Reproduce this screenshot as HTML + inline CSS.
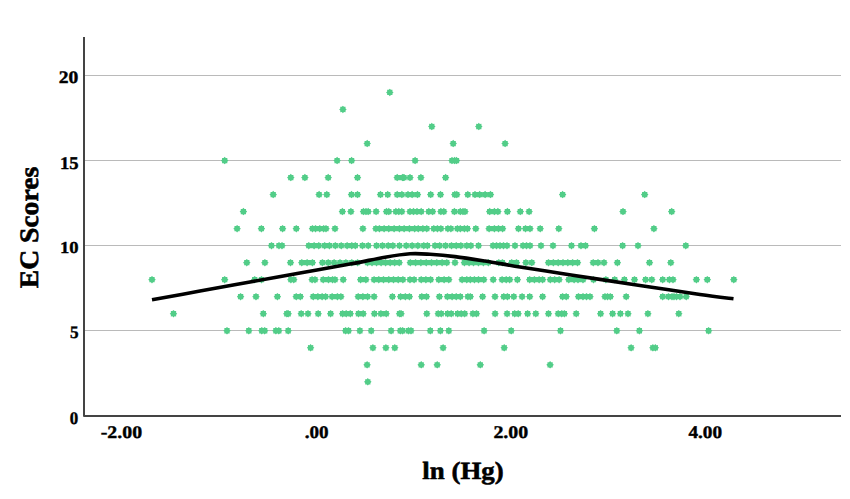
<!DOCTYPE html>
<html><head><meta charset="utf-8"><title>EC Scores vs ln (Hg)</title><style>
html,body{margin:0;padding:0;background:#fff;overflow:hidden;}
svg{display:block;}
text{font-family:"Liberation Serif",serif;font-weight:bold;fill:#000;font-size:20px;stroke:#000;stroke-width:0.45px;text-rendering:geometricPrecision;}
</style></head><body>
<svg width="850" height="499" viewBox="0 0 850 499">
<g stroke="#bababa" stroke-width="1">
<line x1="85" y1="75.5" x2="841" y2="75.5"/>
<line x1="85" y1="160.5" x2="841" y2="160.5"/>
<line x1="85" y1="245.5" x2="841" y2="245.5"/>
<line x1="85" y1="330.5" x2="841" y2="330.5"/>
</g>
<path d="M84 37 V416 H841" fill="none" stroke="#444" stroke-width="2" stroke-linejoin="round"/>
<text transform="matrix(0.9783 0 0 0.8806 58.82 83.35)">20</text><text transform="matrix(0.9318 0 0 0.8955 60.01 168.92)">15</text><text transform="matrix(0.9318 0 0 0.8382 60.01 252.76)">10</text><text transform="matrix(0.8571 0 0 0.8864 70.01 338.32)">5</text><text transform="matrix(0.8452 0 0 0.8881 69.82 423.74)">0</text><text transform="matrix(0.9925 0 0 0.8881 100.71 437.74)">-2.00</text><text transform="matrix(0.9573 0 0 0.8955 304.63 437.84)">.00</text><text transform="matrix(0.9970 0 0 0.8955 493.40 437.84)">2.00</text><text transform="matrix(0.9618 0 0 0.8881 688.41 437.74)">4.00</text><text transform="matrix(1.3429 0 0 1.2389 422.36 478.80)">ln (Hg)</text>
<text transform="translate(38.37 288.25) rotate(-90) scale(1.3805 1.3284)">EC Scores</text>
<g><path fill="#52cd88" d="M389.8 88.72l1.09 1.12 1.56 -0.02 -0.02 1.56 1.12 1.09 -1.12 1.09 0.02 1.56 -1.56 -0.02 -1.09 1.12 -1.09 -1.12 -1.56 0.02 0.02 -1.56 -1.12 -1.09 1.12 -1.09 -0.02 -1.56 1.56 0.02zM342.9 105.74l1.09 1.12 1.56 -0.02 -0.02 1.56 1.12 1.09 -1.12 1.09 0.02 1.56 -1.56 -0.02 -1.09 1.12 -1.09 -1.12 -1.56 0.02 0.02 -1.56 -1.12 -1.09 1.12 -1.09 -0.02 -1.56 1.56 0.02zM431.8 122.76l1.09 1.12 1.56 -0.02 -0.02 1.56 1.12 1.09 -1.12 1.09 0.02 1.56 -1.56 -0.02 -1.09 1.12 -1.09 -1.12 -1.56 0.02 0.02 -1.56 -1.12 -1.09 1.12 -1.09 -0.02 -1.56 1.56 0.02zM478.8 122.76l1.09 1.12 1.56 -0.02 -0.02 1.56 1.12 1.09 -1.12 1.09 0.02 1.56 -1.56 -0.02 -1.09 1.12 -1.09 -1.12 -1.56 0.02 0.02 -1.56 -1.12 -1.09 1.12 -1.09 -0.02 -1.56 1.56 0.02zM367.2 139.78l1.09 1.12 1.56 -0.02 -0.02 1.56 1.12 1.09 -1.12 1.09 0.02 1.56 -1.56 -0.02 -1.09 1.12 -1.09 -1.12 -1.56 0.02 0.02 -1.56 -1.12 -1.09 1.12 -1.09 -0.02 -1.56 1.56 0.02zM453.2 139.78l1.09 1.12 1.56 -0.02 -0.02 1.56 1.12 1.09 -1.12 1.09 0.02 1.56 -1.56 -0.02 -1.09 1.12 -1.09 -1.12 -1.56 0.02 0.02 -1.56 -1.12 -1.09 1.12 -1.09 -0.02 -1.56 1.56 0.02zM505.1 139.78l1.09 1.12 1.56 -0.02 -0.02 1.56 1.12 1.09 -1.12 1.09 0.02 1.56 -1.56 -0.02 -1.09 1.12 -1.09 -1.12 -1.56 0.02 0.02 -1.56 -1.12 -1.09 1.12 -1.09 -0.02 -1.56 1.56 0.02zM224.7 156.8l1.09 1.12 1.56 -0.02 -0.02 1.56 1.12 1.09 -1.12 1.09 0.02 1.56 -1.56 -0.02 -1.09 1.12 -1.09 -1.12 -1.56 0.02 0.02 -1.56 -1.12 -1.09 1.12 -1.09 -0.02 -1.56 1.56 0.02zM337.1 156.8l1.09 1.12 1.56 -0.02 -0.02 1.56 1.12 1.09 -1.12 1.09 0.02 1.56 -1.56 -0.02 -1.09 1.12 -1.09 -1.12 -1.56 0.02 0.02 -1.56 -1.12 -1.09 1.12 -1.09 -0.02 -1.56 1.56 0.02zM351.6 156.8l1.09 1.12 1.56 -0.02 -0.02 1.56 1.12 1.09 -1.12 1.09 0.02 1.56 -1.56 -0.02 -1.09 1.12 -1.09 -1.12 -1.56 0.02 0.02 -1.56 -1.12 -1.09 1.12 -1.09 -0.02 -1.56 1.56 0.02zM415.1 156.8l1.09 1.12 1.56 -0.02 -0.02 1.56 1.12 1.09 -1.12 1.09 0.02 1.56 -1.56 -0.02 -1.09 1.12 -1.09 -1.12 -1.56 0.02 0.02 -1.56 -1.12 -1.09 1.12 -1.09 -0.02 -1.56 1.56 0.02zM452 156.8l1.09 1.12 1.56 -0.02 -0.02 1.56 1.12 1.09 -1.12 1.09 0.02 1.56 -1.56 -0.02 -1.09 1.12 -1.09 -1.12 -1.56 0.02 0.02 -1.56 -1.12 -1.09 1.12 -1.09 -0.02 -1.56 1.56 0.02zM454.5 156.8l1.09 1.12 1.56 -0.02 -0.02 1.56 1.12 1.09 -1.12 1.09 0.02 1.56 -1.56 -0.02 -1.09 1.12 -1.09 -1.12 -1.56 0.02 0.02 -1.56 -1.12 -1.09 1.12 -1.09 -0.02 -1.56 1.56 0.02zM456.5 156.8l1.09 1.12 1.56 -0.02 -0.02 1.56 1.12 1.09 -1.12 1.09 0.02 1.56 -1.56 -0.02 -1.09 1.12 -1.09 -1.12 -1.56 0.02 0.02 -1.56 -1.12 -1.09 1.12 -1.09 -0.02 -1.56 1.56 0.02zM290.8 173.82l1.09 1.12 1.56 -0.02 -0.02 1.56 1.12 1.09 -1.12 1.09 0.02 1.56 -1.56 -0.02 -1.09 1.12 -1.09 -1.12 -1.56 0.02 0.02 -1.56 -1.12 -1.09 1.12 -1.09 -0.02 -1.56 1.56 0.02zM304.9 173.82l1.09 1.12 1.56 -0.02 -0.02 1.56 1.12 1.09 -1.12 1.09 0.02 1.56 -1.56 -0.02 -1.09 1.12 -1.09 -1.12 -1.56 0.02 0.02 -1.56 -1.12 -1.09 1.12 -1.09 -0.02 -1.56 1.56 0.02zM328.2 173.82l1.09 1.12 1.56 -0.02 -0.02 1.56 1.12 1.09 -1.12 1.09 0.02 1.56 -1.56 -0.02 -1.09 1.12 -1.09 -1.12 -1.56 0.02 0.02 -1.56 -1.12 -1.09 1.12 -1.09 -0.02 -1.56 1.56 0.02zM357.5 173.82l1.09 1.12 1.56 -0.02 -0.02 1.56 1.12 1.09 -1.12 1.09 0.02 1.56 -1.56 -0.02 -1.09 1.12 -1.09 -1.12 -1.56 0.02 0.02 -1.56 -1.12 -1.09 1.12 -1.09 -0.02 -1.56 1.56 0.02zM397.2 173.82l1.09 1.12 1.56 -0.02 -0.02 1.56 1.12 1.09 -1.12 1.09 0.02 1.56 -1.56 -0.02 -1.09 1.12 -1.09 -1.12 -1.56 0.02 0.02 -1.56 -1.12 -1.09 1.12 -1.09 -0.02 -1.56 1.56 0.02zM402.5 173.82l1.09 1.12 1.56 -0.02 -0.02 1.56 1.12 1.09 -1.12 1.09 0.02 1.56 -1.56 -0.02 -1.09 1.12 -1.09 -1.12 -1.56 0.02 0.02 -1.56 -1.12 -1.09 1.12 -1.09 -0.02 -1.56 1.56 0.02zM404 173.82l1.09 1.12 1.56 -0.02 -0.02 1.56 1.12 1.09 -1.12 1.09 0.02 1.56 -1.56 -0.02 -1.09 1.12 -1.09 -1.12 -1.56 0.02 0.02 -1.56 -1.12 -1.09 1.12 -1.09 -0.02 -1.56 1.56 0.02zM410 173.82l1.09 1.12 1.56 -0.02 -0.02 1.56 1.12 1.09 -1.12 1.09 0.02 1.56 -1.56 -0.02 -1.09 1.12 -1.09 -1.12 -1.56 0.02 0.02 -1.56 -1.12 -1.09 1.12 -1.09 -0.02 -1.56 1.56 0.02zM420.9 173.82l1.09 1.12 1.56 -0.02 -0.02 1.56 1.12 1.09 -1.12 1.09 0.02 1.56 -1.56 -0.02 -1.09 1.12 -1.09 -1.12 -1.56 0.02 0.02 -1.56 -1.12 -1.09 1.12 -1.09 -0.02 -1.56 1.56 0.02zM445.6 173.82l1.09 1.12 1.56 -0.02 -0.02 1.56 1.12 1.09 -1.12 1.09 0.02 1.56 -1.56 -0.02 -1.09 1.12 -1.09 -1.12 -1.56 0.02 0.02 -1.56 -1.12 -1.09 1.12 -1.09 -0.02 -1.56 1.56 0.02zM273.2 190.84l1.09 1.12 1.56 -0.02 -0.02 1.56 1.12 1.09 -1.12 1.09 0.02 1.56 -1.56 -0.02 -1.09 1.12 -1.09 -1.12 -1.56 0.02 0.02 -1.56 -1.12 -1.09 1.12 -1.09 -0.02 -1.56 1.56 0.02zM319.1 190.84l1.09 1.12 1.56 -0.02 -0.02 1.56 1.12 1.09 -1.12 1.09 0.02 1.56 -1.56 -0.02 -1.09 1.12 -1.09 -1.12 -1.56 0.02 0.02 -1.56 -1.12 -1.09 1.12 -1.09 -0.02 -1.56 1.56 0.02zM326.8 190.84l1.09 1.12 1.56 -0.02 -0.02 1.56 1.12 1.09 -1.12 1.09 0.02 1.56 -1.56 -0.02 -1.09 1.12 -1.09 -1.12 -1.56 0.02 0.02 -1.56 -1.12 -1.09 1.12 -1.09 -0.02 -1.56 1.56 0.02zM351.5 190.84l1.09 1.12 1.56 -0.02 -0.02 1.56 1.12 1.09 -1.12 1.09 0.02 1.56 -1.56 -0.02 -1.09 1.12 -1.09 -1.12 -1.56 0.02 0.02 -1.56 -1.12 -1.09 1.12 -1.09 -0.02 -1.56 1.56 0.02zM357.5 190.84l1.09 1.12 1.56 -0.02 -0.02 1.56 1.12 1.09 -1.12 1.09 0.02 1.56 -1.56 -0.02 -1.09 1.12 -1.09 -1.12 -1.56 0.02 0.02 -1.56 -1.12 -1.09 1.12 -1.09 -0.02 -1.56 1.56 0.02zM380.5 190.84l1.09 1.12 1.56 -0.02 -0.02 1.56 1.12 1.09 -1.12 1.09 0.02 1.56 -1.56 -0.02 -1.09 1.12 -1.09 -1.12 -1.56 0.02 0.02 -1.56 -1.12 -1.09 1.12 -1.09 -0.02 -1.56 1.56 0.02zM387.7 190.84l1.09 1.12 1.56 -0.02 -0.02 1.56 1.12 1.09 -1.12 1.09 0.02 1.56 -1.56 -0.02 -1.09 1.12 -1.09 -1.12 -1.56 0.02 0.02 -1.56 -1.12 -1.09 1.12 -1.09 -0.02 -1.56 1.56 0.02zM397.2 190.84l1.09 1.12 1.56 -0.02 -0.02 1.56 1.12 1.09 -1.12 1.09 0.02 1.56 -1.56 -0.02 -1.09 1.12 -1.09 -1.12 -1.56 0.02 0.02 -1.56 -1.12 -1.09 1.12 -1.09 -0.02 -1.56 1.56 0.02zM401.9 190.84l1.09 1.12 1.56 -0.02 -0.02 1.56 1.12 1.09 -1.12 1.09 0.02 1.56 -1.56 -0.02 -1.09 1.12 -1.09 -1.12 -1.56 0.02 0.02 -1.56 -1.12 -1.09 1.12 -1.09 -0.02 -1.56 1.56 0.02zM408 190.84l1.09 1.12 1.56 -0.02 -0.02 1.56 1.12 1.09 -1.12 1.09 0.02 1.56 -1.56 -0.02 -1.09 1.12 -1.09 -1.12 -1.56 0.02 0.02 -1.56 -1.12 -1.09 1.12 -1.09 -0.02 -1.56 1.56 0.02zM412.1 190.84l1.09 1.12 1.56 -0.02 -0.02 1.56 1.12 1.09 -1.12 1.09 0.02 1.56 -1.56 -0.02 -1.09 1.12 -1.09 -1.12 -1.56 0.02 0.02 -1.56 -1.12 -1.09 1.12 -1.09 -0.02 -1.56 1.56 0.02zM417.5 190.84l1.09 1.12 1.56 -0.02 -0.02 1.56 1.12 1.09 -1.12 1.09 0.02 1.56 -1.56 -0.02 -1.09 1.12 -1.09 -1.12 -1.56 0.02 0.02 -1.56 -1.12 -1.09 1.12 -1.09 -0.02 -1.56 1.56 0.02zM430.7 190.84l1.09 1.12 1.56 -0.02 -0.02 1.56 1.12 1.09 -1.12 1.09 0.02 1.56 -1.56 -0.02 -1.09 1.12 -1.09 -1.12 -1.56 0.02 0.02 -1.56 -1.12 -1.09 1.12 -1.09 -0.02 -1.56 1.56 0.02zM440.5 190.84l1.09 1.12 1.56 -0.02 -0.02 1.56 1.12 1.09 -1.12 1.09 0.02 1.56 -1.56 -0.02 -1.09 1.12 -1.09 -1.12 -1.56 0.02 0.02 -1.56 -1.12 -1.09 1.12 -1.09 -0.02 -1.56 1.56 0.02zM454.8 190.84l1.09 1.12 1.56 -0.02 -0.02 1.56 1.12 1.09 -1.12 1.09 0.02 1.56 -1.56 -0.02 -1.09 1.12 -1.09 -1.12 -1.56 0.02 0.02 -1.56 -1.12 -1.09 1.12 -1.09 -0.02 -1.56 1.56 0.02zM456.8 190.84l1.09 1.12 1.56 -0.02 -0.02 1.56 1.12 1.09 -1.12 1.09 0.02 1.56 -1.56 -0.02 -1.09 1.12 -1.09 -1.12 -1.56 0.02 0.02 -1.56 -1.12 -1.09 1.12 -1.09 -0.02 -1.56 1.56 0.02zM467.8 190.84l1.09 1.12 1.56 -0.02 -0.02 1.56 1.12 1.09 -1.12 1.09 0.02 1.56 -1.56 -0.02 -1.09 1.12 -1.09 -1.12 -1.56 0.02 0.02 -1.56 -1.12 -1.09 1.12 -1.09 -0.02 -1.56 1.56 0.02zM475 190.84l1.09 1.12 1.56 -0.02 -0.02 1.56 1.12 1.09 -1.12 1.09 0.02 1.56 -1.56 -0.02 -1.09 1.12 -1.09 -1.12 -1.56 0.02 0.02 -1.56 -1.12 -1.09 1.12 -1.09 -0.02 -1.56 1.56 0.02zM479.7 190.84l1.09 1.12 1.56 -0.02 -0.02 1.56 1.12 1.09 -1.12 1.09 0.02 1.56 -1.56 -0.02 -1.09 1.12 -1.09 -1.12 -1.56 0.02 0.02 -1.56 -1.12 -1.09 1.12 -1.09 -0.02 -1.56 1.56 0.02zM485.1 190.84l1.09 1.12 1.56 -0.02 -0.02 1.56 1.12 1.09 -1.12 1.09 0.02 1.56 -1.56 -0.02 -1.09 1.12 -1.09 -1.12 -1.56 0.02 0.02 -1.56 -1.12 -1.09 1.12 -1.09 -0.02 -1.56 1.56 0.02zM490.5 190.84l1.09 1.12 1.56 -0.02 -0.02 1.56 1.12 1.09 -1.12 1.09 0.02 1.56 -1.56 -0.02 -1.09 1.12 -1.09 -1.12 -1.56 0.02 0.02 -1.56 -1.12 -1.09 1.12 -1.09 -0.02 -1.56 1.56 0.02zM562.6 190.84l1.09 1.12 1.56 -0.02 -0.02 1.56 1.12 1.09 -1.12 1.09 0.02 1.56 -1.56 -0.02 -1.09 1.12 -1.09 -1.12 -1.56 0.02 0.02 -1.56 -1.12 -1.09 1.12 -1.09 -0.02 -1.56 1.56 0.02zM644.7 190.84l1.09 1.12 1.56 -0.02 -0.02 1.56 1.12 1.09 -1.12 1.09 0.02 1.56 -1.56 -0.02 -1.09 1.12 -1.09 -1.12 -1.56 0.02 0.02 -1.56 -1.12 -1.09 1.12 -1.09 -0.02 -1.56 1.56 0.02zM243.4 207.86l1.09 1.12 1.56 -0.02 -0.02 1.56 1.12 1.09 -1.12 1.09 0.02 1.56 -1.56 -0.02 -1.09 1.12 -1.09 -1.12 -1.56 0.02 0.02 -1.56 -1.12 -1.09 1.12 -1.09 -0.02 -1.56 1.56 0.02zM342.4 207.86l1.09 1.12 1.56 -0.02 -0.02 1.56 1.12 1.09 -1.12 1.09 0.02 1.56 -1.56 -0.02 -1.09 1.12 -1.09 -1.12 -1.56 0.02 0.02 -1.56 -1.12 -1.09 1.12 -1.09 -0.02 -1.56 1.56 0.02zM350.9 207.86l1.09 1.12 1.56 -0.02 -0.02 1.56 1.12 1.09 -1.12 1.09 0.02 1.56 -1.56 -0.02 -1.09 1.12 -1.09 -1.12 -1.56 0.02 0.02 -1.56 -1.12 -1.09 1.12 -1.09 -0.02 -1.56 1.56 0.02zM363.5 207.86l1.09 1.12 1.56 -0.02 -0.02 1.56 1.12 1.09 -1.12 1.09 0.02 1.56 -1.56 -0.02 -1.09 1.12 -1.09 -1.12 -1.56 0.02 0.02 -1.56 -1.12 -1.09 1.12 -1.09 -0.02 -1.56 1.56 0.02zM366 207.86l1.09 1.12 1.56 -0.02 -0.02 1.56 1.12 1.09 -1.12 1.09 0.02 1.56 -1.56 -0.02 -1.09 1.12 -1.09 -1.12 -1.56 0.02 0.02 -1.56 -1.12 -1.09 1.12 -1.09 -0.02 -1.56 1.56 0.02zM368.2 207.86l1.09 1.12 1.56 -0.02 -0.02 1.56 1.12 1.09 -1.12 1.09 0.02 1.56 -1.56 -0.02 -1.09 1.12 -1.09 -1.12 -1.56 0.02 0.02 -1.56 -1.12 -1.09 1.12 -1.09 -0.02 -1.56 1.56 0.02zM376.1 207.86l1.09 1.12 1.56 -0.02 -0.02 1.56 1.12 1.09 -1.12 1.09 0.02 1.56 -1.56 -0.02 -1.09 1.12 -1.09 -1.12 -1.56 0.02 0.02 -1.56 -1.12 -1.09 1.12 -1.09 -0.02 -1.56 1.56 0.02zM386.5 207.86l1.09 1.12 1.56 -0.02 -0.02 1.56 1.12 1.09 -1.12 1.09 0.02 1.56 -1.56 -0.02 -1.09 1.12 -1.09 -1.12 -1.56 0.02 0.02 -1.56 -1.12 -1.09 1.12 -1.09 -0.02 -1.56 1.56 0.02zM388.8 207.86l1.09 1.12 1.56 -0.02 -0.02 1.56 1.12 1.09 -1.12 1.09 0.02 1.56 -1.56 -0.02 -1.09 1.12 -1.09 -1.12 -1.56 0.02 0.02 -1.56 -1.12 -1.09 1.12 -1.09 -0.02 -1.56 1.56 0.02zM395.9 207.86l1.09 1.12 1.56 -0.02 -0.02 1.56 1.12 1.09 -1.12 1.09 0.02 1.56 -1.56 -0.02 -1.09 1.12 -1.09 -1.12 -1.56 0.02 0.02 -1.56 -1.12 -1.09 1.12 -1.09 -0.02 -1.56 1.56 0.02zM398.8 207.86l1.09 1.12 1.56 -0.02 -0.02 1.56 1.12 1.09 -1.12 1.09 0.02 1.56 -1.56 -0.02 -1.09 1.12 -1.09 -1.12 -1.56 0.02 0.02 -1.56 -1.12 -1.09 1.12 -1.09 -0.02 -1.56 1.56 0.02zM401.8 207.86l1.09 1.12 1.56 -0.02 -0.02 1.56 1.12 1.09 -1.12 1.09 0.02 1.56 -1.56 -0.02 -1.09 1.12 -1.09 -1.12 -1.56 0.02 0.02 -1.56 -1.12 -1.09 1.12 -1.09 -0.02 -1.56 1.56 0.02zM410 207.86l1.09 1.12 1.56 -0.02 -0.02 1.56 1.12 1.09 -1.12 1.09 0.02 1.56 -1.56 -0.02 -1.09 1.12 -1.09 -1.12 -1.56 0.02 0.02 -1.56 -1.12 -1.09 1.12 -1.09 -0.02 -1.56 1.56 0.02zM413.5 207.86l1.09 1.12 1.56 -0.02 -0.02 1.56 1.12 1.09 -1.12 1.09 0.02 1.56 -1.56 -0.02 -1.09 1.12 -1.09 -1.12 -1.56 0.02 0.02 -1.56 -1.12 -1.09 1.12 -1.09 -0.02 -1.56 1.56 0.02zM417 207.86l1.09 1.12 1.56 -0.02 -0.02 1.56 1.12 1.09 -1.12 1.09 0.02 1.56 -1.56 -0.02 -1.09 1.12 -1.09 -1.12 -1.56 0.02 0.02 -1.56 -1.12 -1.09 1.12 -1.09 -0.02 -1.56 1.56 0.02zM421.2 207.86l1.09 1.12 1.56 -0.02 -0.02 1.56 1.12 1.09 -1.12 1.09 0.02 1.56 -1.56 -0.02 -1.09 1.12 -1.09 -1.12 -1.56 0.02 0.02 -1.56 -1.12 -1.09 1.12 -1.09 -0.02 -1.56 1.56 0.02zM428.8 207.86l1.09 1.12 1.56 -0.02 -0.02 1.56 1.12 1.09 -1.12 1.09 0.02 1.56 -1.56 -0.02 -1.09 1.12 -1.09 -1.12 -1.56 0.02 0.02 -1.56 -1.12 -1.09 1.12 -1.09 -0.02 -1.56 1.56 0.02zM432.6 207.86l1.09 1.12 1.56 -0.02 -0.02 1.56 1.12 1.09 -1.12 1.09 0.02 1.56 -1.56 -0.02 -1.09 1.12 -1.09 -1.12 -1.56 0.02 0.02 -1.56 -1.12 -1.09 1.12 -1.09 -0.02 -1.56 1.56 0.02zM440.9 207.86l1.09 1.12 1.56 -0.02 -0.02 1.56 1.12 1.09 -1.12 1.09 0.02 1.56 -1.56 -0.02 -1.09 1.12 -1.09 -1.12 -1.56 0.02 0.02 -1.56 -1.12 -1.09 1.12 -1.09 -0.02 -1.56 1.56 0.02zM443.8 207.86l1.09 1.12 1.56 -0.02 -0.02 1.56 1.12 1.09 -1.12 1.09 0.02 1.56 -1.56 -0.02 -1.09 1.12 -1.09 -1.12 -1.56 0.02 0.02 -1.56 -1.12 -1.09 1.12 -1.09 -0.02 -1.56 1.56 0.02zM454.4 207.86l1.09 1.12 1.56 -0.02 -0.02 1.56 1.12 1.09 -1.12 1.09 0.02 1.56 -1.56 -0.02 -1.09 1.12 -1.09 -1.12 -1.56 0.02 0.02 -1.56 -1.12 -1.09 1.12 -1.09 -0.02 -1.56 1.56 0.02zM460.3 207.86l1.09 1.12 1.56 -0.02 -0.02 1.56 1.12 1.09 -1.12 1.09 0.02 1.56 -1.56 -0.02 -1.09 1.12 -1.09 -1.12 -1.56 0.02 0.02 -1.56 -1.12 -1.09 1.12 -1.09 -0.02 -1.56 1.56 0.02zM463 207.86l1.09 1.12 1.56 -0.02 -0.02 1.56 1.12 1.09 -1.12 1.09 0.02 1.56 -1.56 -0.02 -1.09 1.12 -1.09 -1.12 -1.56 0.02 0.02 -1.56 -1.12 -1.09 1.12 -1.09 -0.02 -1.56 1.56 0.02zM465 207.86l1.09 1.12 1.56 -0.02 -0.02 1.56 1.12 1.09 -1.12 1.09 0.02 1.56 -1.56 -0.02 -1.09 1.12 -1.09 -1.12 -1.56 0.02 0.02 -1.56 -1.12 -1.09 1.12 -1.09 -0.02 -1.56 1.56 0.02zM489.7 207.86l1.09 1.12 1.56 -0.02 -0.02 1.56 1.12 1.09 -1.12 1.09 0.02 1.56 -1.56 -0.02 -1.09 1.12 -1.09 -1.12 -1.56 0.02 0.02 -1.56 -1.12 -1.09 1.12 -1.09 -0.02 -1.56 1.56 0.02zM494.4 207.86l1.09 1.12 1.56 -0.02 -0.02 1.56 1.12 1.09 -1.12 1.09 0.02 1.56 -1.56 -0.02 -1.09 1.12 -1.09 -1.12 -1.56 0.02 0.02 -1.56 -1.12 -1.09 1.12 -1.09 -0.02 -1.56 1.56 0.02zM497.9 207.86l1.09 1.12 1.56 -0.02 -0.02 1.56 1.12 1.09 -1.12 1.09 0.02 1.56 -1.56 -0.02 -1.09 1.12 -1.09 -1.12 -1.56 0.02 0.02 -1.56 -1.12 -1.09 1.12 -1.09 -0.02 -1.56 1.56 0.02zM507.4 207.86l1.09 1.12 1.56 -0.02 -0.02 1.56 1.12 1.09 -1.12 1.09 0.02 1.56 -1.56 -0.02 -1.09 1.12 -1.09 -1.12 -1.56 0.02 0.02 -1.56 -1.12 -1.09 1.12 -1.09 -0.02 -1.56 1.56 0.02zM520.3 207.86l1.09 1.12 1.56 -0.02 -0.02 1.56 1.12 1.09 -1.12 1.09 0.02 1.56 -1.56 -0.02 -1.09 1.12 -1.09 -1.12 -1.56 0.02 0.02 -1.56 -1.12 -1.09 1.12 -1.09 -0.02 -1.56 1.56 0.02zM529.1 207.86l1.09 1.12 1.56 -0.02 -0.02 1.56 1.12 1.09 -1.12 1.09 0.02 1.56 -1.56 -0.02 -1.09 1.12 -1.09 -1.12 -1.56 0.02 0.02 -1.56 -1.12 -1.09 1.12 -1.09 -0.02 -1.56 1.56 0.02zM623 207.86l1.09 1.12 1.56 -0.02 -0.02 1.56 1.12 1.09 -1.12 1.09 0.02 1.56 -1.56 -0.02 -1.09 1.12 -1.09 -1.12 -1.56 0.02 0.02 -1.56 -1.12 -1.09 1.12 -1.09 -0.02 -1.56 1.56 0.02zM671.7 207.86l1.09 1.12 1.56 -0.02 -0.02 1.56 1.12 1.09 -1.12 1.09 0.02 1.56 -1.56 -0.02 -1.09 1.12 -1.09 -1.12 -1.56 0.02 0.02 -1.56 -1.12 -1.09 1.12 -1.09 -0.02 -1.56 1.56 0.02zM237.1 224.88l1.09 1.12 1.56 -0.02 -0.02 1.56 1.12 1.09 -1.12 1.09 0.02 1.56 -1.56 -0.02 -1.09 1.12 -1.09 -1.12 -1.56 0.02 0.02 -1.56 -1.12 -1.09 1.12 -1.09 -0.02 -1.56 1.56 0.02zM261.4 224.88l1.09 1.12 1.56 -0.02 -0.02 1.56 1.12 1.09 -1.12 1.09 0.02 1.56 -1.56 -0.02 -1.09 1.12 -1.09 -1.12 -1.56 0.02 0.02 -1.56 -1.12 -1.09 1.12 -1.09 -0.02 -1.56 1.56 0.02zM282.6 224.88l1.09 1.12 1.56 -0.02 -0.02 1.56 1.12 1.09 -1.12 1.09 0.02 1.56 -1.56 -0.02 -1.09 1.12 -1.09 -1.12 -1.56 0.02 0.02 -1.56 -1.12 -1.09 1.12 -1.09 -0.02 -1.56 1.56 0.02zM296.3 224.88l1.09 1.12 1.56 -0.02 -0.02 1.56 1.12 1.09 -1.12 1.09 0.02 1.56 -1.56 -0.02 -1.09 1.12 -1.09 -1.12 -1.56 0.02 0.02 -1.56 -1.12 -1.09 1.12 -1.09 -0.02 -1.56 1.56 0.02zM312.5 224.88l1.09 1.12 1.56 -0.02 -0.02 1.56 1.12 1.09 -1.12 1.09 0.02 1.56 -1.56 -0.02 -1.09 1.12 -1.09 -1.12 -1.56 0.02 0.02 -1.56 -1.12 -1.09 1.12 -1.09 -0.02 -1.56 1.56 0.02zM315.5 224.88l1.09 1.12 1.56 -0.02 -0.02 1.56 1.12 1.09 -1.12 1.09 0.02 1.56 -1.56 -0.02 -1.09 1.12 -1.09 -1.12 -1.56 0.02 0.02 -1.56 -1.12 -1.09 1.12 -1.09 -0.02 -1.56 1.56 0.02zM319.8 224.88l1.09 1.12 1.56 -0.02 -0.02 1.56 1.12 1.09 -1.12 1.09 0.02 1.56 -1.56 -0.02 -1.09 1.12 -1.09 -1.12 -1.56 0.02 0.02 -1.56 -1.12 -1.09 1.12 -1.09 -0.02 -1.56 1.56 0.02zM323.7 224.88l1.09 1.12 1.56 -0.02 -0.02 1.56 1.12 1.09 -1.12 1.09 0.02 1.56 -1.56 -0.02 -1.09 1.12 -1.09 -1.12 -1.56 0.02 0.02 -1.56 -1.12 -1.09 1.12 -1.09 -0.02 -1.56 1.56 0.02zM326 224.88l1.09 1.12 1.56 -0.02 -0.02 1.56 1.12 1.09 -1.12 1.09 0.02 1.56 -1.56 -0.02 -1.09 1.12 -1.09 -1.12 -1.56 0.02 0.02 -1.56 -1.12 -1.09 1.12 -1.09 -0.02 -1.56 1.56 0.02zM335 224.88l1.09 1.12 1.56 -0.02 -0.02 1.56 1.12 1.09 -1.12 1.09 0.02 1.56 -1.56 -0.02 -1.09 1.12 -1.09 -1.12 -1.56 0.02 0.02 -1.56 -1.12 -1.09 1.12 -1.09 -0.02 -1.56 1.56 0.02zM362.9 224.88l1.09 1.12 1.56 -0.02 -0.02 1.56 1.12 1.09 -1.12 1.09 0.02 1.56 -1.56 -0.02 -1.09 1.12 -1.09 -1.12 -1.56 0.02 0.02 -1.56 -1.12 -1.09 1.12 -1.09 -0.02 -1.56 1.56 0.02zM375.9 224.88l1.09 1.12 1.56 -0.02 -0.02 1.56 1.12 1.09 -1.12 1.09 0.02 1.56 -1.56 -0.02 -1.09 1.12 -1.09 -1.12 -1.56 0.02 0.02 -1.56 -1.12 -1.09 1.12 -1.09 -0.02 -1.56 1.56 0.02zM379.4 224.88l1.09 1.12 1.56 -0.02 -0.02 1.56 1.12 1.09 -1.12 1.09 0.02 1.56 -1.56 -0.02 -1.09 1.12 -1.09 -1.12 -1.56 0.02 0.02 -1.56 -1.12 -1.09 1.12 -1.09 -0.02 -1.56 1.56 0.02zM384.1 224.88l1.09 1.12 1.56 -0.02 -0.02 1.56 1.12 1.09 -1.12 1.09 0.02 1.56 -1.56 -0.02 -1.09 1.12 -1.09 -1.12 -1.56 0.02 0.02 -1.56 -1.12 -1.09 1.12 -1.09 -0.02 -1.56 1.56 0.02zM388.8 224.88l1.09 1.12 1.56 -0.02 -0.02 1.56 1.12 1.09 -1.12 1.09 0.02 1.56 -1.56 -0.02 -1.09 1.12 -1.09 -1.12 -1.56 0.02 0.02 -1.56 -1.12 -1.09 1.12 -1.09 -0.02 -1.56 1.56 0.02zM394.1 224.88l1.09 1.12 1.56 -0.02 -0.02 1.56 1.12 1.09 -1.12 1.09 0.02 1.56 -1.56 -0.02 -1.09 1.12 -1.09 -1.12 -1.56 0.02 0.02 -1.56 -1.12 -1.09 1.12 -1.09 -0.02 -1.56 1.56 0.02zM399.4 224.88l1.09 1.12 1.56 -0.02 -0.02 1.56 1.12 1.09 -1.12 1.09 0.02 1.56 -1.56 -0.02 -1.09 1.12 -1.09 -1.12 -1.56 0.02 0.02 -1.56 -1.12 -1.09 1.12 -1.09 -0.02 -1.56 1.56 0.02zM404.1 224.88l1.09 1.12 1.56 -0.02 -0.02 1.56 1.12 1.09 -1.12 1.09 0.02 1.56 -1.56 -0.02 -1.09 1.12 -1.09 -1.12 -1.56 0.02 0.02 -1.56 -1.12 -1.09 1.12 -1.09 -0.02 -1.56 1.56 0.02zM409.4 224.88l1.09 1.12 1.56 -0.02 -0.02 1.56 1.12 1.09 -1.12 1.09 0.02 1.56 -1.56 -0.02 -1.09 1.12 -1.09 -1.12 -1.56 0.02 0.02 -1.56 -1.12 -1.09 1.12 -1.09 -0.02 -1.56 1.56 0.02zM414.7 224.88l1.09 1.12 1.56 -0.02 -0.02 1.56 1.12 1.09 -1.12 1.09 0.02 1.56 -1.56 -0.02 -1.09 1.12 -1.09 -1.12 -1.56 0.02 0.02 -1.56 -1.12 -1.09 1.12 -1.09 -0.02 -1.56 1.56 0.02zM418.2 224.88l1.09 1.12 1.56 -0.02 -0.02 1.56 1.12 1.09 -1.12 1.09 0.02 1.56 -1.56 -0.02 -1.09 1.12 -1.09 -1.12 -1.56 0.02 0.02 -1.56 -1.12 -1.09 1.12 -1.09 -0.02 -1.56 1.56 0.02zM422.9 224.88l1.09 1.12 1.56 -0.02 -0.02 1.56 1.12 1.09 -1.12 1.09 0.02 1.56 -1.56 -0.02 -1.09 1.12 -1.09 -1.12 -1.56 0.02 0.02 -1.56 -1.12 -1.09 1.12 -1.09 -0.02 -1.56 1.56 0.02zM426.8 224.88l1.09 1.12 1.56 -0.02 -0.02 1.56 1.12 1.09 -1.12 1.09 0.02 1.56 -1.56 -0.02 -1.09 1.12 -1.09 -1.12 -1.56 0.02 0.02 -1.56 -1.12 -1.09 1.12 -1.09 -0.02 -1.56 1.56 0.02zM433.8 224.88l1.09 1.12 1.56 -0.02 -0.02 1.56 1.12 1.09 -1.12 1.09 0.02 1.56 -1.56 -0.02 -1.09 1.12 -1.09 -1.12 -1.56 0.02 0.02 -1.56 -1.12 -1.09 1.12 -1.09 -0.02 -1.56 1.56 0.02zM437.4 224.88l1.09 1.12 1.56 -0.02 -0.02 1.56 1.12 1.09 -1.12 1.09 0.02 1.56 -1.56 -0.02 -1.09 1.12 -1.09 -1.12 -1.56 0.02 0.02 -1.56 -1.12 -1.09 1.12 -1.09 -0.02 -1.56 1.56 0.02zM440.9 224.88l1.09 1.12 1.56 -0.02 -0.02 1.56 1.12 1.09 -1.12 1.09 0.02 1.56 -1.56 -0.02 -1.09 1.12 -1.09 -1.12 -1.56 0.02 0.02 -1.56 -1.12 -1.09 1.12 -1.09 -0.02 -1.56 1.56 0.02zM447.9 224.88l1.09 1.12 1.56 -0.02 -0.02 1.56 1.12 1.09 -1.12 1.09 0.02 1.56 -1.56 -0.02 -1.09 1.12 -1.09 -1.12 -1.56 0.02 0.02 -1.56 -1.12 -1.09 1.12 -1.09 -0.02 -1.56 1.56 0.02zM450.9 224.88l1.09 1.12 1.56 -0.02 -0.02 1.56 1.12 1.09 -1.12 1.09 0.02 1.56 -1.56 -0.02 -1.09 1.12 -1.09 -1.12 -1.56 0.02 0.02 -1.56 -1.12 -1.09 1.12 -1.09 -0.02 -1.56 1.56 0.02zM457.4 224.88l1.09 1.12 1.56 -0.02 -0.02 1.56 1.12 1.09 -1.12 1.09 0.02 1.56 -1.56 -0.02 -1.09 1.12 -1.09 -1.12 -1.56 0.02 0.02 -1.56 -1.12 -1.09 1.12 -1.09 -0.02 -1.56 1.56 0.02zM460.3 224.88l1.09 1.12 1.56 -0.02 -0.02 1.56 1.12 1.09 -1.12 1.09 0.02 1.56 -1.56 -0.02 -1.09 1.12 -1.09 -1.12 -1.56 0.02 0.02 -1.56 -1.12 -1.09 1.12 -1.09 -0.02 -1.56 1.56 0.02zM464.4 224.88l1.09 1.12 1.56 -0.02 -0.02 1.56 1.12 1.09 -1.12 1.09 0.02 1.56 -1.56 -0.02 -1.09 1.12 -1.09 -1.12 -1.56 0.02 0.02 -1.56 -1.12 -1.09 1.12 -1.09 -0.02 -1.56 1.56 0.02zM467.4 224.88l1.09 1.12 1.56 -0.02 -0.02 1.56 1.12 1.09 -1.12 1.09 0.02 1.56 -1.56 -0.02 -1.09 1.12 -1.09 -1.12 -1.56 0.02 0.02 -1.56 -1.12 -1.09 1.12 -1.09 -0.02 -1.56 1.56 0.02zM475.8 224.88l1.09 1.12 1.56 -0.02 -0.02 1.56 1.12 1.09 -1.12 1.09 0.02 1.56 -1.56 -0.02 -1.09 1.12 -1.09 -1.12 -1.56 0.02 0.02 -1.56 -1.12 -1.09 1.12 -1.09 -0.02 -1.56 1.56 0.02zM489.1 224.88l1.09 1.12 1.56 -0.02 -0.02 1.56 1.12 1.09 -1.12 1.09 0.02 1.56 -1.56 -0.02 -1.09 1.12 -1.09 -1.12 -1.56 0.02 0.02 -1.56 -1.12 -1.09 1.12 -1.09 -0.02 -1.56 1.56 0.02zM494.4 224.88l1.09 1.12 1.56 -0.02 -0.02 1.56 1.12 1.09 -1.12 1.09 0.02 1.56 -1.56 -0.02 -1.09 1.12 -1.09 -1.12 -1.56 0.02 0.02 -1.56 -1.12 -1.09 1.12 -1.09 -0.02 -1.56 1.56 0.02zM498.5 224.88l1.09 1.12 1.56 -0.02 -0.02 1.56 1.12 1.09 -1.12 1.09 0.02 1.56 -1.56 -0.02 -1.09 1.12 -1.09 -1.12 -1.56 0.02 0.02 -1.56 -1.12 -1.09 1.12 -1.09 -0.02 -1.56 1.56 0.02zM502.6 224.88l1.09 1.12 1.56 -0.02 -0.02 1.56 1.12 1.09 -1.12 1.09 0.02 1.56 -1.56 -0.02 -1.09 1.12 -1.09 -1.12 -1.56 0.02 0.02 -1.56 -1.12 -1.09 1.12 -1.09 -0.02 -1.56 1.56 0.02zM518.5 224.88l1.09 1.12 1.56 -0.02 -0.02 1.56 1.12 1.09 -1.12 1.09 0.02 1.56 -1.56 -0.02 -1.09 1.12 -1.09 -1.12 -1.56 0.02 0.02 -1.56 -1.12 -1.09 1.12 -1.09 -0.02 -1.56 1.56 0.02zM525.5 224.88l1.09 1.12 1.56 -0.02 -0.02 1.56 1.12 1.09 -1.12 1.09 0.02 1.56 -1.56 -0.02 -1.09 1.12 -1.09 -1.12 -1.56 0.02 0.02 -1.56 -1.12 -1.09 1.12 -1.09 -0.02 -1.56 1.56 0.02zM530 224.88l1.09 1.12 1.56 -0.02 -0.02 1.56 1.12 1.09 -1.12 1.09 0.02 1.56 -1.56 -0.02 -1.09 1.12 -1.09 -1.12 -1.56 0.02 0.02 -1.56 -1.12 -1.09 1.12 -1.09 -0.02 -1.56 1.56 0.02zM540.2 224.88l1.09 1.12 1.56 -0.02 -0.02 1.56 1.12 1.09 -1.12 1.09 0.02 1.56 -1.56 -0.02 -1.09 1.12 -1.09 -1.12 -1.56 0.02 0.02 -1.56 -1.12 -1.09 1.12 -1.09 -0.02 -1.56 1.56 0.02zM558.8 224.88l1.09 1.12 1.56 -0.02 -0.02 1.56 1.12 1.09 -1.12 1.09 0.02 1.56 -1.56 -0.02 -1.09 1.12 -1.09 -1.12 -1.56 0.02 0.02 -1.56 -1.12 -1.09 1.12 -1.09 -0.02 -1.56 1.56 0.02zM594.4 224.88l1.09 1.12 1.56 -0.02 -0.02 1.56 1.12 1.09 -1.12 1.09 0.02 1.56 -1.56 -0.02 -1.09 1.12 -1.09 -1.12 -1.56 0.02 0.02 -1.56 -1.12 -1.09 1.12 -1.09 -0.02 -1.56 1.56 0.02zM653.9 224.88l1.09 1.12 1.56 -0.02 -0.02 1.56 1.12 1.09 -1.12 1.09 0.02 1.56 -1.56 -0.02 -1.09 1.12 -1.09 -1.12 -1.56 0.02 0.02 -1.56 -1.12 -1.09 1.12 -1.09 -0.02 -1.56 1.56 0.02zM271.5 241.9l1.09 1.12 1.56 -0.02 -0.02 1.56 1.12 1.09 -1.12 1.09 0.02 1.56 -1.56 -0.02 -1.09 1.12 -1.09 -1.12 -1.56 0.02 0.02 -1.56 -1.12 -1.09 1.12 -1.09 -0.02 -1.56 1.56 0.02zM279 241.9l1.09 1.12 1.56 -0.02 -0.02 1.56 1.12 1.09 -1.12 1.09 0.02 1.56 -1.56 -0.02 -1.09 1.12 -1.09 -1.12 -1.56 0.02 0.02 -1.56 -1.12 -1.09 1.12 -1.09 -0.02 -1.56 1.56 0.02zM282 241.9l1.09 1.12 1.56 -0.02 -0.02 1.56 1.12 1.09 -1.12 1.09 0.02 1.56 -1.56 -0.02 -1.09 1.12 -1.09 -1.12 -1.56 0.02 0.02 -1.56 -1.12 -1.09 1.12 -1.09 -0.02 -1.56 1.56 0.02zM308.8 241.9l1.09 1.12 1.56 -0.02 -0.02 1.56 1.12 1.09 -1.12 1.09 0.02 1.56 -1.56 -0.02 -1.09 1.12 -1.09 -1.12 -1.56 0.02 0.02 -1.56 -1.12 -1.09 1.12 -1.09 -0.02 -1.56 1.56 0.02zM314.1 241.9l1.09 1.12 1.56 -0.02 -0.02 1.56 1.12 1.09 -1.12 1.09 0.02 1.56 -1.56 -0.02 -1.09 1.12 -1.09 -1.12 -1.56 0.02 0.02 -1.56 -1.12 -1.09 1.12 -1.09 -0.02 -1.56 1.56 0.02zM318.8 241.9l1.09 1.12 1.56 -0.02 -0.02 1.56 1.12 1.09 -1.12 1.09 0.02 1.56 -1.56 -0.02 -1.09 1.12 -1.09 -1.12 -1.56 0.02 0.02 -1.56 -1.12 -1.09 1.12 -1.09 -0.02 -1.56 1.56 0.02zM324.7 241.9l1.09 1.12 1.56 -0.02 -0.02 1.56 1.12 1.09 -1.12 1.09 0.02 1.56 -1.56 -0.02 -1.09 1.12 -1.09 -1.12 -1.56 0.02 0.02 -1.56 -1.12 -1.09 1.12 -1.09 -0.02 -1.56 1.56 0.02zM329.4 241.9l1.09 1.12 1.56 -0.02 -0.02 1.56 1.12 1.09 -1.12 1.09 0.02 1.56 -1.56 -0.02 -1.09 1.12 -1.09 -1.12 -1.56 0.02 0.02 -1.56 -1.12 -1.09 1.12 -1.09 -0.02 -1.56 1.56 0.02zM335.3 241.9l1.09 1.12 1.56 -0.02 -0.02 1.56 1.12 1.09 -1.12 1.09 0.02 1.56 -1.56 -0.02 -1.09 1.12 -1.09 -1.12 -1.56 0.02 0.02 -1.56 -1.12 -1.09 1.12 -1.09 -0.02 -1.56 1.56 0.02zM341.2 241.9l1.09 1.12 1.56 -0.02 -0.02 1.56 1.12 1.09 -1.12 1.09 0.02 1.56 -1.56 -0.02 -1.09 1.12 -1.09 -1.12 -1.56 0.02 0.02 -1.56 -1.12 -1.09 1.12 -1.09 -0.02 -1.56 1.56 0.02zM347.1 241.9l1.09 1.12 1.56 -0.02 -0.02 1.56 1.12 1.09 -1.12 1.09 0.02 1.56 -1.56 -0.02 -1.09 1.12 -1.09 -1.12 -1.56 0.02 0.02 -1.56 -1.12 -1.09 1.12 -1.09 -0.02 -1.56 1.56 0.02zM351.8 241.9l1.09 1.12 1.56 -0.02 -0.02 1.56 1.12 1.09 -1.12 1.09 0.02 1.56 -1.56 -0.02 -1.09 1.12 -1.09 -1.12 -1.56 0.02 0.02 -1.56 -1.12 -1.09 1.12 -1.09 -0.02 -1.56 1.56 0.02zM355.3 241.9l1.09 1.12 1.56 -0.02 -0.02 1.56 1.12 1.09 -1.12 1.09 0.02 1.56 -1.56 -0.02 -1.09 1.12 -1.09 -1.12 -1.56 0.02 0.02 -1.56 -1.12 -1.09 1.12 -1.09 -0.02 -1.56 1.56 0.02zM362.4 241.9l1.09 1.12 1.56 -0.02 -0.02 1.56 1.12 1.09 -1.12 1.09 0.02 1.56 -1.56 -0.02 -1.09 1.12 -1.09 -1.12 -1.56 0.02 0.02 -1.56 -1.12 -1.09 1.12 -1.09 -0.02 -1.56 1.56 0.02zM368.2 241.9l1.09 1.12 1.56 -0.02 -0.02 1.56 1.12 1.09 -1.12 1.09 0.02 1.56 -1.56 -0.02 -1.09 1.12 -1.09 -1.12 -1.56 0.02 0.02 -1.56 -1.12 -1.09 1.12 -1.09 -0.02 -1.56 1.56 0.02zM376.5 241.9l1.09 1.12 1.56 -0.02 -0.02 1.56 1.12 1.09 -1.12 1.09 0.02 1.56 -1.56 -0.02 -1.09 1.12 -1.09 -1.12 -1.56 0.02 0.02 -1.56 -1.12 -1.09 1.12 -1.09 -0.02 -1.56 1.56 0.02zM382.4 241.9l1.09 1.12 1.56 -0.02 -0.02 1.56 1.12 1.09 -1.12 1.09 0.02 1.56 -1.56 -0.02 -1.09 1.12 -1.09 -1.12 -1.56 0.02 0.02 -1.56 -1.12 -1.09 1.12 -1.09 -0.02 -1.56 1.56 0.02zM388.2 241.9l1.09 1.12 1.56 -0.02 -0.02 1.56 1.12 1.09 -1.12 1.09 0.02 1.56 -1.56 -0.02 -1.09 1.12 -1.09 -1.12 -1.56 0.02 0.02 -1.56 -1.12 -1.09 1.12 -1.09 -0.02 -1.56 1.56 0.02zM392.9 241.9l1.09 1.12 1.56 -0.02 -0.02 1.56 1.12 1.09 -1.12 1.09 0.02 1.56 -1.56 -0.02 -1.09 1.12 -1.09 -1.12 -1.56 0.02 0.02 -1.56 -1.12 -1.09 1.12 -1.09 -0.02 -1.56 1.56 0.02zM399.5 241.9l1.09 1.12 1.56 -0.02 -0.02 1.56 1.12 1.09 -1.12 1.09 0.02 1.56 -1.56 -0.02 -1.09 1.12 -1.09 -1.12 -1.56 0.02 0.02 -1.56 -1.12 -1.09 1.12 -1.09 -0.02 -1.56 1.56 0.02zM406.2 241.9l1.09 1.12 1.56 -0.02 -0.02 1.56 1.12 1.09 -1.12 1.09 0.02 1.56 -1.56 -0.02 -1.09 1.12 -1.09 -1.12 -1.56 0.02 0.02 -1.56 -1.12 -1.09 1.12 -1.09 -0.02 -1.56 1.56 0.02zM412.1 241.9l1.09 1.12 1.56 -0.02 -0.02 1.56 1.12 1.09 -1.12 1.09 0.02 1.56 -1.56 -0.02 -1.09 1.12 -1.09 -1.12 -1.56 0.02 0.02 -1.56 -1.12 -1.09 1.12 -1.09 -0.02 -1.56 1.56 0.02zM417.9 241.9l1.09 1.12 1.56 -0.02 -0.02 1.56 1.12 1.09 -1.12 1.09 0.02 1.56 -1.56 -0.02 -1.09 1.12 -1.09 -1.12 -1.56 0.02 0.02 -1.56 -1.12 -1.09 1.12 -1.09 -0.02 -1.56 1.56 0.02zM423.8 241.9l1.09 1.12 1.56 -0.02 -0.02 1.56 1.12 1.09 -1.12 1.09 0.02 1.56 -1.56 -0.02 -1.09 1.12 -1.09 -1.12 -1.56 0.02 0.02 -1.56 -1.12 -1.09 1.12 -1.09 -0.02 -1.56 1.56 0.02zM427.4 241.9l1.09 1.12 1.56 -0.02 -0.02 1.56 1.12 1.09 -1.12 1.09 0.02 1.56 -1.56 -0.02 -1.09 1.12 -1.09 -1.12 -1.56 0.02 0.02 -1.56 -1.12 -1.09 1.12 -1.09 -0.02 -1.56 1.56 0.02zM435 241.9l1.09 1.12 1.56 -0.02 -0.02 1.56 1.12 1.09 -1.12 1.09 0.02 1.56 -1.56 -0.02 -1.09 1.12 -1.09 -1.12 -1.56 0.02 0.02 -1.56 -1.12 -1.09 1.12 -1.09 -0.02 -1.56 1.56 0.02zM439.7 241.9l1.09 1.12 1.56 -0.02 -0.02 1.56 1.12 1.09 -1.12 1.09 0.02 1.56 -1.56 -0.02 -1.09 1.12 -1.09 -1.12 -1.56 0.02 0.02 -1.56 -1.12 -1.09 1.12 -1.09 -0.02 -1.56 1.56 0.02zM445.6 241.9l1.09 1.12 1.56 -0.02 -0.02 1.56 1.12 1.09 -1.12 1.09 0.02 1.56 -1.56 -0.02 -1.09 1.12 -1.09 -1.12 -1.56 0.02 0.02 -1.56 -1.12 -1.09 1.12 -1.09 -0.02 -1.56 1.56 0.02zM451.5 241.9l1.09 1.12 1.56 -0.02 -0.02 1.56 1.12 1.09 -1.12 1.09 0.02 1.56 -1.56 -0.02 -1.09 1.12 -1.09 -1.12 -1.56 0.02 0.02 -1.56 -1.12 -1.09 1.12 -1.09 -0.02 -1.56 1.56 0.02zM456.2 241.9l1.09 1.12 1.56 -0.02 -0.02 1.56 1.12 1.09 -1.12 1.09 0.02 1.56 -1.56 -0.02 -1.09 1.12 -1.09 -1.12 -1.56 0.02 0.02 -1.56 -1.12 -1.09 1.12 -1.09 -0.02 -1.56 1.56 0.02zM460.9 241.9l1.09 1.12 1.56 -0.02 -0.02 1.56 1.12 1.09 -1.12 1.09 0.02 1.56 -1.56 -0.02 -1.09 1.12 -1.09 -1.12 -1.56 0.02 0.02 -1.56 -1.12 -1.09 1.12 -1.09 -0.02 -1.56 1.56 0.02zM466.8 241.9l1.09 1.12 1.56 -0.02 -0.02 1.56 1.12 1.09 -1.12 1.09 0.02 1.56 -1.56 -0.02 -1.09 1.12 -1.09 -1.12 -1.56 0.02 0.02 -1.56 -1.12 -1.09 1.12 -1.09 -0.02 -1.56 1.56 0.02zM470.9 241.9l1.09 1.12 1.56 -0.02 -0.02 1.56 1.12 1.09 -1.12 1.09 0.02 1.56 -1.56 -0.02 -1.09 1.12 -1.09 -1.12 -1.56 0.02 0.02 -1.56 -1.12 -1.09 1.12 -1.09 -0.02 -1.56 1.56 0.02zM478.5 241.9l1.09 1.12 1.56 -0.02 -0.02 1.56 1.12 1.09 -1.12 1.09 0.02 1.56 -1.56 -0.02 -1.09 1.12 -1.09 -1.12 -1.56 0.02 0.02 -1.56 -1.12 -1.09 1.12 -1.09 -0.02 -1.56 1.56 0.02zM493 241.9l1.09 1.12 1.56 -0.02 -0.02 1.56 1.12 1.09 -1.12 1.09 0.02 1.56 -1.56 -0.02 -1.09 1.12 -1.09 -1.12 -1.56 0.02 0.02 -1.56 -1.12 -1.09 1.12 -1.09 -0.02 -1.56 1.56 0.02zM496.5 241.9l1.09 1.12 1.56 -0.02 -0.02 1.56 1.12 1.09 -1.12 1.09 0.02 1.56 -1.56 -0.02 -1.09 1.12 -1.09 -1.12 -1.56 0.02 0.02 -1.56 -1.12 -1.09 1.12 -1.09 -0.02 -1.56 1.56 0.02zM500 241.9l1.09 1.12 1.56 -0.02 -0.02 1.56 1.12 1.09 -1.12 1.09 0.02 1.56 -1.56 -0.02 -1.09 1.12 -1.09 -1.12 -1.56 0.02 0.02 -1.56 -1.12 -1.09 1.12 -1.09 -0.02 -1.56 1.56 0.02zM503.5 241.9l1.09 1.12 1.56 -0.02 -0.02 1.56 1.12 1.09 -1.12 1.09 0.02 1.56 -1.56 -0.02 -1.09 1.12 -1.09 -1.12 -1.56 0.02 0.02 -1.56 -1.12 -1.09 1.12 -1.09 -0.02 -1.56 1.56 0.02zM507 241.9l1.09 1.12 1.56 -0.02 -0.02 1.56 1.12 1.09 -1.12 1.09 0.02 1.56 -1.56 -0.02 -1.09 1.12 -1.09 -1.12 -1.56 0.02 0.02 -1.56 -1.12 -1.09 1.12 -1.09 -0.02 -1.56 1.56 0.02zM515 241.9l1.09 1.12 1.56 -0.02 -0.02 1.56 1.12 1.09 -1.12 1.09 0.02 1.56 -1.56 -0.02 -1.09 1.12 -1.09 -1.12 -1.56 0.02 0.02 -1.56 -1.12 -1.09 1.12 -1.09 -0.02 -1.56 1.56 0.02zM523 241.9l1.09 1.12 1.56 -0.02 -0.02 1.56 1.12 1.09 -1.12 1.09 0.02 1.56 -1.56 -0.02 -1.09 1.12 -1.09 -1.12 -1.56 0.02 0.02 -1.56 -1.12 -1.09 1.12 -1.09 -0.02 -1.56 1.56 0.02zM526.5 241.9l1.09 1.12 1.56 -0.02 -0.02 1.56 1.12 1.09 -1.12 1.09 0.02 1.56 -1.56 -0.02 -1.09 1.12 -1.09 -1.12 -1.56 0.02 0.02 -1.56 -1.12 -1.09 1.12 -1.09 -0.02 -1.56 1.56 0.02zM530 241.9l1.09 1.12 1.56 -0.02 -0.02 1.56 1.12 1.09 -1.12 1.09 0.02 1.56 -1.56 -0.02 -1.09 1.12 -1.09 -1.12 -1.56 0.02 0.02 -1.56 -1.12 -1.09 1.12 -1.09 -0.02 -1.56 1.56 0.02zM541 241.9l1.09 1.12 1.56 -0.02 -0.02 1.56 1.12 1.09 -1.12 1.09 0.02 1.56 -1.56 -0.02 -1.09 1.12 -1.09 -1.12 -1.56 0.02 0.02 -1.56 -1.12 -1.09 1.12 -1.09 -0.02 -1.56 1.56 0.02zM553 241.9l1.09 1.12 1.56 -0.02 -0.02 1.56 1.12 1.09 -1.12 1.09 0.02 1.56 -1.56 -0.02 -1.09 1.12 -1.09 -1.12 -1.56 0.02 0.02 -1.56 -1.12 -1.09 1.12 -1.09 -0.02 -1.56 1.56 0.02zM571.5 241.9l1.09 1.12 1.56 -0.02 -0.02 1.56 1.12 1.09 -1.12 1.09 0.02 1.56 -1.56 -0.02 -1.09 1.12 -1.09 -1.12 -1.56 0.02 0.02 -1.56 -1.12 -1.09 1.12 -1.09 -0.02 -1.56 1.56 0.02zM581 241.9l1.09 1.12 1.56 -0.02 -0.02 1.56 1.12 1.09 -1.12 1.09 0.02 1.56 -1.56 -0.02 -1.09 1.12 -1.09 -1.12 -1.56 0.02 0.02 -1.56 -1.12 -1.09 1.12 -1.09 -0.02 -1.56 1.56 0.02zM585.5 241.9l1.09 1.12 1.56 -0.02 -0.02 1.56 1.12 1.09 -1.12 1.09 0.02 1.56 -1.56 -0.02 -1.09 1.12 -1.09 -1.12 -1.56 0.02 0.02 -1.56 -1.12 -1.09 1.12 -1.09 -0.02 -1.56 1.56 0.02zM622.6 241.9l1.09 1.12 1.56 -0.02 -0.02 1.56 1.12 1.09 -1.12 1.09 0.02 1.56 -1.56 -0.02 -1.09 1.12 -1.09 -1.12 -1.56 0.02 0.02 -1.56 -1.12 -1.09 1.12 -1.09 -0.02 -1.56 1.56 0.02zM638 241.9l1.09 1.12 1.56 -0.02 -0.02 1.56 1.12 1.09 -1.12 1.09 0.02 1.56 -1.56 -0.02 -1.09 1.12 -1.09 -1.12 -1.56 0.02 0.02 -1.56 -1.12 -1.09 1.12 -1.09 -0.02 -1.56 1.56 0.02zM685.8 241.9l1.09 1.12 1.56 -0.02 -0.02 1.56 1.12 1.09 -1.12 1.09 0.02 1.56 -1.56 -0.02 -1.09 1.12 -1.09 -1.12 -1.56 0.02 0.02 -1.56 -1.12 -1.09 1.12 -1.09 -0.02 -1.56 1.56 0.02zM246.8 258.92l1.09 1.12 1.56 -0.02 -0.02 1.56 1.12 1.09 -1.12 1.09 0.02 1.56 -1.56 -0.02 -1.09 1.12 -1.09 -1.12 -1.56 0.02 0.02 -1.56 -1.12 -1.09 1.12 -1.09 -0.02 -1.56 1.56 0.02zM264.9 258.92l1.09 1.12 1.56 -0.02 -0.02 1.56 1.12 1.09 -1.12 1.09 0.02 1.56 -1.56 -0.02 -1.09 1.12 -1.09 -1.12 -1.56 0.02 0.02 -1.56 -1.12 -1.09 1.12 -1.09 -0.02 -1.56 1.56 0.02zM290.5 258.92l1.09 1.12 1.56 -0.02 -0.02 1.56 1.12 1.09 -1.12 1.09 0.02 1.56 -1.56 -0.02 -1.09 1.12 -1.09 -1.12 -1.56 0.02 0.02 -1.56 -1.12 -1.09 1.12 -1.09 -0.02 -1.56 1.56 0.02zM301.8 258.92l1.09 1.12 1.56 -0.02 -0.02 1.56 1.12 1.09 -1.12 1.09 0.02 1.56 -1.56 -0.02 -1.09 1.12 -1.09 -1.12 -1.56 0.02 0.02 -1.56 -1.12 -1.09 1.12 -1.09 -0.02 -1.56 1.56 0.02zM307.1 258.92l1.09 1.12 1.56 -0.02 -0.02 1.56 1.12 1.09 -1.12 1.09 0.02 1.56 -1.56 -0.02 -1.09 1.12 -1.09 -1.12 -1.56 0.02 0.02 -1.56 -1.12 -1.09 1.12 -1.09 -0.02 -1.56 1.56 0.02zM312.4 258.92l1.09 1.12 1.56 -0.02 -0.02 1.56 1.12 1.09 -1.12 1.09 0.02 1.56 -1.56 -0.02 -1.09 1.12 -1.09 -1.12 -1.56 0.02 0.02 -1.56 -1.12 -1.09 1.12 -1.09 -0.02 -1.56 1.56 0.02zM322.4 258.92l1.09 1.12 1.56 -0.02 -0.02 1.56 1.12 1.09 -1.12 1.09 0.02 1.56 -1.56 -0.02 -1.09 1.12 -1.09 -1.12 -1.56 0.02 0.02 -1.56 -1.12 -1.09 1.12 -1.09 -0.02 -1.56 1.56 0.02zM328.2 258.92l1.09 1.12 1.56 -0.02 -0.02 1.56 1.12 1.09 -1.12 1.09 0.02 1.56 -1.56 -0.02 -1.09 1.12 -1.09 -1.12 -1.56 0.02 0.02 -1.56 -1.12 -1.09 1.12 -1.09 -0.02 -1.56 1.56 0.02zM334.1 258.92l1.09 1.12 1.56 -0.02 -0.02 1.56 1.12 1.09 -1.12 1.09 0.02 1.56 -1.56 -0.02 -1.09 1.12 -1.09 -1.12 -1.56 0.02 0.02 -1.56 -1.12 -1.09 1.12 -1.09 -0.02 -1.56 1.56 0.02zM340 258.92l1.09 1.12 1.56 -0.02 -0.02 1.56 1.12 1.09 -1.12 1.09 0.02 1.56 -1.56 -0.02 -1.09 1.12 -1.09 -1.12 -1.56 0.02 0.02 -1.56 -1.12 -1.09 1.12 -1.09 -0.02 -1.56 1.56 0.02zM345.9 258.92l1.09 1.12 1.56 -0.02 -0.02 1.56 1.12 1.09 -1.12 1.09 0.02 1.56 -1.56 -0.02 -1.09 1.12 -1.09 -1.12 -1.56 0.02 0.02 -1.56 -1.12 -1.09 1.12 -1.09 -0.02 -1.56 1.56 0.02zM351.8 258.92l1.09 1.12 1.56 -0.02 -0.02 1.56 1.12 1.09 -1.12 1.09 0.02 1.56 -1.56 -0.02 -1.09 1.12 -1.09 -1.12 -1.56 0.02 0.02 -1.56 -1.12 -1.09 1.12 -1.09 -0.02 -1.56 1.56 0.02zM357.6 258.92l1.09 1.12 1.56 -0.02 -0.02 1.56 1.12 1.09 -1.12 1.09 0.02 1.56 -1.56 -0.02 -1.09 1.12 -1.09 -1.12 -1.56 0.02 0.02 -1.56 -1.12 -1.09 1.12 -1.09 -0.02 -1.56 1.56 0.02zM367.5 258.92l1.09 1.12 1.56 -0.02 -0.02 1.56 1.12 1.09 -1.12 1.09 0.02 1.56 -1.56 -0.02 -1.09 1.12 -1.09 -1.12 -1.56 0.02 0.02 -1.56 -1.12 -1.09 1.12 -1.09 -0.02 -1.56 1.56 0.02zM372.03 258.92l1.09 1.12 1.56 -0.02 -0.02 1.56 1.12 1.09 -1.12 1.09 0.02 1.56 -1.56 -0.02 -1.09 1.12 -1.09 -1.12 -1.56 0.02 0.02 -1.56 -1.12 -1.09 1.12 -1.09 -0.02 -1.56 1.56 0.02zM376.56 258.92l1.09 1.12 1.56 -0.02 -0.02 1.56 1.12 1.09 -1.12 1.09 0.02 1.56 -1.56 -0.02 -1.09 1.12 -1.09 -1.12 -1.56 0.02 0.02 -1.56 -1.12 -1.09 1.12 -1.09 -0.02 -1.56 1.56 0.02zM381.09 258.92l1.09 1.12 1.56 -0.02 -0.02 1.56 1.12 1.09 -1.12 1.09 0.02 1.56 -1.56 -0.02 -1.09 1.12 -1.09 -1.12 -1.56 0.02 0.02 -1.56 -1.12 -1.09 1.12 -1.09 -0.02 -1.56 1.56 0.02zM385.61 258.92l1.09 1.12 1.56 -0.02 -0.02 1.56 1.12 1.09 -1.12 1.09 0.02 1.56 -1.56 -0.02 -1.09 1.12 -1.09 -1.12 -1.56 0.02 0.02 -1.56 -1.12 -1.09 1.12 -1.09 -0.02 -1.56 1.56 0.02zM390.14 258.92l1.09 1.12 1.56 -0.02 -0.02 1.56 1.12 1.09 -1.12 1.09 0.02 1.56 -1.56 -0.02 -1.09 1.12 -1.09 -1.12 -1.56 0.02 0.02 -1.56 -1.12 -1.09 1.12 -1.09 -0.02 -1.56 1.56 0.02zM394.67 258.92l1.09 1.12 1.56 -0.02 -0.02 1.56 1.12 1.09 -1.12 1.09 0.02 1.56 -1.56 -0.02 -1.09 1.12 -1.09 -1.12 -1.56 0.02 0.02 -1.56 -1.12 -1.09 1.12 -1.09 -0.02 -1.56 1.56 0.02zM399.2 258.92l1.09 1.12 1.56 -0.02 -0.02 1.56 1.12 1.09 -1.12 1.09 0.02 1.56 -1.56 -0.02 -1.09 1.12 -1.09 -1.12 -1.56 0.02 0.02 -1.56 -1.12 -1.09 1.12 -1.09 -0.02 -1.56 1.56 0.02zM410.3 258.92l1.09 1.12 1.56 -0.02 -0.02 1.56 1.12 1.09 -1.12 1.09 0.02 1.56 -1.56 -0.02 -1.09 1.12 -1.09 -1.12 -1.56 0.02 0.02 -1.56 -1.12 -1.09 1.12 -1.09 -0.02 -1.56 1.56 0.02zM415.6 258.92l1.09 1.12 1.56 -0.02 -0.02 1.56 1.12 1.09 -1.12 1.09 0.02 1.56 -1.56 -0.02 -1.09 1.12 -1.09 -1.12 -1.56 0.02 0.02 -1.56 -1.12 -1.09 1.12 -1.09 -0.02 -1.56 1.56 0.02zM420.9 258.92l1.09 1.12 1.56 -0.02 -0.02 1.56 1.12 1.09 -1.12 1.09 0.02 1.56 -1.56 -0.02 -1.09 1.12 -1.09 -1.12 -1.56 0.02 0.02 -1.56 -1.12 -1.09 1.12 -1.09 -0.02 -1.56 1.56 0.02zM426.2 258.92l1.09 1.12 1.56 -0.02 -0.02 1.56 1.12 1.09 -1.12 1.09 0.02 1.56 -1.56 -0.02 -1.09 1.12 -1.09 -1.12 -1.56 0.02 0.02 -1.56 -1.12 -1.09 1.12 -1.09 -0.02 -1.56 1.56 0.02zM431.5 258.92l1.09 1.12 1.56 -0.02 -0.02 1.56 1.12 1.09 -1.12 1.09 0.02 1.56 -1.56 -0.02 -1.09 1.12 -1.09 -1.12 -1.56 0.02 0.02 -1.56 -1.12 -1.09 1.12 -1.09 -0.02 -1.56 1.56 0.02zM436.8 258.92l1.09 1.12 1.56 -0.02 -0.02 1.56 1.12 1.09 -1.12 1.09 0.02 1.56 -1.56 -0.02 -1.09 1.12 -1.09 -1.12 -1.56 0.02 0.02 -1.56 -1.12 -1.09 1.12 -1.09 -0.02 -1.56 1.56 0.02zM442.1 258.92l1.09 1.12 1.56 -0.02 -0.02 1.56 1.12 1.09 -1.12 1.09 0.02 1.56 -1.56 -0.02 -1.09 1.12 -1.09 -1.12 -1.56 0.02 0.02 -1.56 -1.12 -1.09 1.12 -1.09 -0.02 -1.56 1.56 0.02zM446.8 258.92l1.09 1.12 1.56 -0.02 -0.02 1.56 1.12 1.09 -1.12 1.09 0.02 1.56 -1.56 -0.02 -1.09 1.12 -1.09 -1.12 -1.56 0.02 0.02 -1.56 -1.12 -1.09 1.12 -1.09 -0.02 -1.56 1.56 0.02zM455 258.92l1.09 1.12 1.56 -0.02 -0.02 1.56 1.12 1.09 -1.12 1.09 0.02 1.56 -1.56 -0.02 -1.09 1.12 -1.09 -1.12 -1.56 0.02 0.02 -1.56 -1.12 -1.09 1.12 -1.09 -0.02 -1.56 1.56 0.02zM464.4 258.92l1.09 1.12 1.56 -0.02 -0.02 1.56 1.12 1.09 -1.12 1.09 0.02 1.56 -1.56 -0.02 -1.09 1.12 -1.09 -1.12 -1.56 0.02 0.02 -1.56 -1.12 -1.09 1.12 -1.09 -0.02 -1.56 1.56 0.02zM469.1 258.92l1.09 1.12 1.56 -0.02 -0.02 1.56 1.12 1.09 -1.12 1.09 0.02 1.56 -1.56 -0.02 -1.09 1.12 -1.09 -1.12 -1.56 0.02 0.02 -1.56 -1.12 -1.09 1.12 -1.09 -0.02 -1.56 1.56 0.02zM473.5 258.92l1.09 1.12 1.56 -0.02 -0.02 1.56 1.12 1.09 -1.12 1.09 0.02 1.56 -1.56 -0.02 -1.09 1.12 -1.09 -1.12 -1.56 0.02 0.02 -1.56 -1.12 -1.09 1.12 -1.09 -0.02 -1.56 1.56 0.02zM478.43 258.92l1.09 1.12 1.56 -0.02 -0.02 1.56 1.12 1.09 -1.12 1.09 0.02 1.56 -1.56 -0.02 -1.09 1.12 -1.09 -1.12 -1.56 0.02 0.02 -1.56 -1.12 -1.09 1.12 -1.09 -0.02 -1.56 1.56 0.02zM483.37 258.92l1.09 1.12 1.56 -0.02 -0.02 1.56 1.12 1.09 -1.12 1.09 0.02 1.56 -1.56 -0.02 -1.09 1.12 -1.09 -1.12 -1.56 0.02 0.02 -1.56 -1.12 -1.09 1.12 -1.09 -0.02 -1.56 1.56 0.02zM488.3 258.92l1.09 1.12 1.56 -0.02 -0.02 1.56 1.12 1.09 -1.12 1.09 0.02 1.56 -1.56 -0.02 -1.09 1.12 -1.09 -1.12 -1.56 0.02 0.02 -1.56 -1.12 -1.09 1.12 -1.09 -0.02 -1.56 1.56 0.02zM498.8 258.92l1.09 1.12 1.56 -0.02 -0.02 1.56 1.12 1.09 -1.12 1.09 0.02 1.56 -1.56 -0.02 -1.09 1.12 -1.09 -1.12 -1.56 0.02 0.02 -1.56 -1.12 -1.09 1.12 -1.09 -0.02 -1.56 1.56 0.02zM502.4 258.92l1.09 1.12 1.56 -0.02 -0.02 1.56 1.12 1.09 -1.12 1.09 0.02 1.56 -1.56 -0.02 -1.09 1.12 -1.09 -1.12 -1.56 0.02 0.02 -1.56 -1.12 -1.09 1.12 -1.09 -0.02 -1.56 1.56 0.02zM511.7 258.92l1.09 1.12 1.56 -0.02 -0.02 1.56 1.12 1.09 -1.12 1.09 0.02 1.56 -1.56 -0.02 -1.09 1.12 -1.09 -1.12 -1.56 0.02 0.02 -1.56 -1.12 -1.09 1.12 -1.09 -0.02 -1.56 1.56 0.02zM516.5 258.92l1.09 1.12 1.56 -0.02 -0.02 1.56 1.12 1.09 -1.12 1.09 0.02 1.56 -1.56 -0.02 -1.09 1.12 -1.09 -1.12 -1.56 0.02 0.02 -1.56 -1.12 -1.09 1.12 -1.09 -0.02 -1.56 1.56 0.02zM525.9 258.92l1.09 1.12 1.56 -0.02 -0.02 1.56 1.12 1.09 -1.12 1.09 0.02 1.56 -1.56 -0.02 -1.09 1.12 -1.09 -1.12 -1.56 0.02 0.02 -1.56 -1.12 -1.09 1.12 -1.09 -0.02 -1.56 1.56 0.02zM531.8 258.92l1.09 1.12 1.56 -0.02 -0.02 1.56 1.12 1.09 -1.12 1.09 0.02 1.56 -1.56 -0.02 -1.09 1.12 -1.09 -1.12 -1.56 0.02 0.02 -1.56 -1.12 -1.09 1.12 -1.09 -0.02 -1.56 1.56 0.02zM548.5 258.92l1.09 1.12 1.56 -0.02 -0.02 1.56 1.12 1.09 -1.12 1.09 0.02 1.56 -1.56 -0.02 -1.09 1.12 -1.09 -1.12 -1.56 0.02 0.02 -1.56 -1.12 -1.09 1.12 -1.09 -0.02 -1.56 1.56 0.02zM553.33 258.92l1.09 1.12 1.56 -0.02 -0.02 1.56 1.12 1.09 -1.12 1.09 0.02 1.56 -1.56 -0.02 -1.09 1.12 -1.09 -1.12 -1.56 0.02 0.02 -1.56 -1.12 -1.09 1.12 -1.09 -0.02 -1.56 1.56 0.02zM558.17 258.92l1.09 1.12 1.56 -0.02 -0.02 1.56 1.12 1.09 -1.12 1.09 0.02 1.56 -1.56 -0.02 -1.09 1.12 -1.09 -1.12 -1.56 0.02 0.02 -1.56 -1.12 -1.09 1.12 -1.09 -0.02 -1.56 1.56 0.02zM563 258.92l1.09 1.12 1.56 -0.02 -0.02 1.56 1.12 1.09 -1.12 1.09 0.02 1.56 -1.56 -0.02 -1.09 1.12 -1.09 -1.12 -1.56 0.02 0.02 -1.56 -1.12 -1.09 1.12 -1.09 -0.02 -1.56 1.56 0.02zM567.83 258.92l1.09 1.12 1.56 -0.02 -0.02 1.56 1.12 1.09 -1.12 1.09 0.02 1.56 -1.56 -0.02 -1.09 1.12 -1.09 -1.12 -1.56 0.02 0.02 -1.56 -1.12 -1.09 1.12 -1.09 -0.02 -1.56 1.56 0.02zM572.67 258.92l1.09 1.12 1.56 -0.02 -0.02 1.56 1.12 1.09 -1.12 1.09 0.02 1.56 -1.56 -0.02 -1.09 1.12 -1.09 -1.12 -1.56 0.02 0.02 -1.56 -1.12 -1.09 1.12 -1.09 -0.02 -1.56 1.56 0.02zM577.5 258.92l1.09 1.12 1.56 -0.02 -0.02 1.56 1.12 1.09 -1.12 1.09 0.02 1.56 -1.56 -0.02 -1.09 1.12 -1.09 -1.12 -1.56 0.02 0.02 -1.56 -1.12 -1.09 1.12 -1.09 -0.02 -1.56 1.56 0.02zM593.2 258.92l1.09 1.12 1.56 -0.02 -0.02 1.56 1.12 1.09 -1.12 1.09 0.02 1.56 -1.56 -0.02 -1.09 1.12 -1.09 -1.12 -1.56 0.02 0.02 -1.56 -1.12 -1.09 1.12 -1.09 -0.02 -1.56 1.56 0.02zM598 258.92l1.09 1.12 1.56 -0.02 -0.02 1.56 1.12 1.09 -1.12 1.09 0.02 1.56 -1.56 -0.02 -1.09 1.12 -1.09 -1.12 -1.56 0.02 0.02 -1.56 -1.12 -1.09 1.12 -1.09 -0.02 -1.56 1.56 0.02zM604 258.92l1.09 1.12 1.56 -0.02 -0.02 1.56 1.12 1.09 -1.12 1.09 0.02 1.56 -1.56 -0.02 -1.09 1.12 -1.09 -1.12 -1.56 0.02 0.02 -1.56 -1.12 -1.09 1.12 -1.09 -0.02 -1.56 1.56 0.02zM617.4 258.92l1.09 1.12 1.56 -0.02 -0.02 1.56 1.12 1.09 -1.12 1.09 0.02 1.56 -1.56 -0.02 -1.09 1.12 -1.09 -1.12 -1.56 0.02 0.02 -1.56 -1.12 -1.09 1.12 -1.09 -0.02 -1.56 1.56 0.02zM649.5 258.92l1.09 1.12 1.56 -0.02 -0.02 1.56 1.12 1.09 -1.12 1.09 0.02 1.56 -1.56 -0.02 -1.09 1.12 -1.09 -1.12 -1.56 0.02 0.02 -1.56 -1.12 -1.09 1.12 -1.09 -0.02 -1.56 1.56 0.02zM670.8 258.92l1.09 1.12 1.56 -0.02 -0.02 1.56 1.12 1.09 -1.12 1.09 0.02 1.56 -1.56 -0.02 -1.09 1.12 -1.09 -1.12 -1.56 0.02 0.02 -1.56 -1.12 -1.09 1.12 -1.09 -0.02 -1.56 1.56 0.02zM152 275.94l1.09 1.12 1.56 -0.02 -0.02 1.56 1.12 1.09 -1.12 1.09 0.02 1.56 -1.56 -0.02 -1.09 1.12 -1.09 -1.12 -1.56 0.02 0.02 -1.56 -1.12 -1.09 1.12 -1.09 -0.02 -1.56 1.56 0.02zM224.7 275.94l1.09 1.12 1.56 -0.02 -0.02 1.56 1.12 1.09 -1.12 1.09 0.02 1.56 -1.56 -0.02 -1.09 1.12 -1.09 -1.12 -1.56 0.02 0.02 -1.56 -1.12 -1.09 1.12 -1.09 -0.02 -1.56 1.56 0.02zM254.7 275.94l1.09 1.12 1.56 -0.02 -0.02 1.56 1.12 1.09 -1.12 1.09 0.02 1.56 -1.56 -0.02 -1.09 1.12 -1.09 -1.12 -1.56 0.02 0.02 -1.56 -1.12 -1.09 1.12 -1.09 -0.02 -1.56 1.56 0.02zM261.5 275.94l1.09 1.12 1.56 -0.02 -0.02 1.56 1.12 1.09 -1.12 1.09 0.02 1.56 -1.56 -0.02 -1.09 1.12 -1.09 -1.12 -1.56 0.02 0.02 -1.56 -1.12 -1.09 1.12 -1.09 -0.02 -1.56 1.56 0.02zM290.9 275.94l1.09 1.12 1.56 -0.02 -0.02 1.56 1.12 1.09 -1.12 1.09 0.02 1.56 -1.56 -0.02 -1.09 1.12 -1.09 -1.12 -1.56 0.02 0.02 -1.56 -1.12 -1.09 1.12 -1.09 -0.02 -1.56 1.56 0.02zM293.8 275.94l1.09 1.12 1.56 -0.02 -0.02 1.56 1.12 1.09 -1.12 1.09 0.02 1.56 -1.56 -0.02 -1.09 1.12 -1.09 -1.12 -1.56 0.02 0.02 -1.56 -1.12 -1.09 1.12 -1.09 -0.02 -1.56 1.56 0.02zM312.1 275.94l1.09 1.12 1.56 -0.02 -0.02 1.56 1.12 1.09 -1.12 1.09 0.02 1.56 -1.56 -0.02 -1.09 1.12 -1.09 -1.12 -1.56 0.02 0.02 -1.56 -1.12 -1.09 1.12 -1.09 -0.02 -1.56 1.56 0.02zM315 275.94l1.09 1.12 1.56 -0.02 -0.02 1.56 1.12 1.09 -1.12 1.09 0.02 1.56 -1.56 -0.02 -1.09 1.12 -1.09 -1.12 -1.56 0.02 0.02 -1.56 -1.12 -1.09 1.12 -1.09 -0.02 -1.56 1.56 0.02zM323.2 275.94l1.09 1.12 1.56 -0.02 -0.02 1.56 1.12 1.09 -1.12 1.09 0.02 1.56 -1.56 -0.02 -1.09 1.12 -1.09 -1.12 -1.56 0.02 0.02 -1.56 -1.12 -1.09 1.12 -1.09 -0.02 -1.56 1.56 0.02zM328.5 275.94l1.09 1.12 1.56 -0.02 -0.02 1.56 1.12 1.09 -1.12 1.09 0.02 1.56 -1.56 -0.02 -1.09 1.12 -1.09 -1.12 -1.56 0.02 0.02 -1.56 -1.12 -1.09 1.12 -1.09 -0.02 -1.56 1.56 0.02zM332.6 275.94l1.09 1.12 1.56 -0.02 -0.02 1.56 1.12 1.09 -1.12 1.09 0.02 1.56 -1.56 -0.02 -1.09 1.12 -1.09 -1.12 -1.56 0.02 0.02 -1.56 -1.12 -1.09 1.12 -1.09 -0.02 -1.56 1.56 0.02zM335 275.94l1.09 1.12 1.56 -0.02 -0.02 1.56 1.12 1.09 -1.12 1.09 0.02 1.56 -1.56 -0.02 -1.09 1.12 -1.09 -1.12 -1.56 0.02 0.02 -1.56 -1.12 -1.09 1.12 -1.09 -0.02 -1.56 1.56 0.02zM343.2 275.94l1.09 1.12 1.56 -0.02 -0.02 1.56 1.12 1.09 -1.12 1.09 0.02 1.56 -1.56 -0.02 -1.09 1.12 -1.09 -1.12 -1.56 0.02 0.02 -1.56 -1.12 -1.09 1.12 -1.09 -0.02 -1.56 1.56 0.02zM360.6 275.94l1.09 1.12 1.56 -0.02 -0.02 1.56 1.12 1.09 -1.12 1.09 0.02 1.56 -1.56 -0.02 -1.09 1.12 -1.09 -1.12 -1.56 0.02 0.02 -1.56 -1.12 -1.09 1.12 -1.09 -0.02 -1.56 1.56 0.02zM365.9 275.94l1.09 1.12 1.56 -0.02 -0.02 1.56 1.12 1.09 -1.12 1.09 0.02 1.56 -1.56 -0.02 -1.09 1.12 -1.09 -1.12 -1.56 0.02 0.02 -1.56 -1.12 -1.09 1.12 -1.09 -0.02 -1.56 1.56 0.02zM374.1 275.94l1.09 1.12 1.56 -0.02 -0.02 1.56 1.12 1.09 -1.12 1.09 0.02 1.56 -1.56 -0.02 -1.09 1.12 -1.09 -1.12 -1.56 0.02 0.02 -1.56 -1.12 -1.09 1.12 -1.09 -0.02 -1.56 1.56 0.02zM378.8 275.94l1.09 1.12 1.56 -0.02 -0.02 1.56 1.12 1.09 -1.12 1.09 0.02 1.56 -1.56 -0.02 -1.09 1.12 -1.09 -1.12 -1.56 0.02 0.02 -1.56 -1.12 -1.09 1.12 -1.09 -0.02 -1.56 1.56 0.02zM383.5 275.94l1.09 1.12 1.56 -0.02 -0.02 1.56 1.12 1.09 -1.12 1.09 0.02 1.56 -1.56 -0.02 -1.09 1.12 -1.09 -1.12 -1.56 0.02 0.02 -1.56 -1.12 -1.09 1.12 -1.09 -0.02 -1.56 1.56 0.02zM388.8 275.94l1.09 1.12 1.56 -0.02 -0.02 1.56 1.12 1.09 -1.12 1.09 0.02 1.56 -1.56 -0.02 -1.09 1.12 -1.09 -1.12 -1.56 0.02 0.02 -1.56 -1.12 -1.09 1.12 -1.09 -0.02 -1.56 1.56 0.02zM393.5 275.94l1.09 1.12 1.56 -0.02 -0.02 1.56 1.12 1.09 -1.12 1.09 0.02 1.56 -1.56 -0.02 -1.09 1.12 -1.09 -1.12 -1.56 0.02 0.02 -1.56 -1.12 -1.09 1.12 -1.09 -0.02 -1.56 1.56 0.02zM398.2 275.94l1.09 1.12 1.56 -0.02 -0.02 1.56 1.12 1.09 -1.12 1.09 0.02 1.56 -1.56 -0.02 -1.09 1.12 -1.09 -1.12 -1.56 0.02 0.02 -1.56 -1.12 -1.09 1.12 -1.09 -0.02 -1.56 1.56 0.02zM402.9 275.94l1.09 1.12 1.56 -0.02 -0.02 1.56 1.12 1.09 -1.12 1.09 0.02 1.56 -1.56 -0.02 -1.09 1.12 -1.09 -1.12 -1.56 0.02 0.02 -1.56 -1.12 -1.09 1.12 -1.09 -0.02 -1.56 1.56 0.02zM410 275.94l1.09 1.12 1.56 -0.02 -0.02 1.56 1.12 1.09 -1.12 1.09 0.02 1.56 -1.56 -0.02 -1.09 1.12 -1.09 -1.12 -1.56 0.02 0.02 -1.56 -1.12 -1.09 1.12 -1.09 -0.02 -1.56 1.56 0.02zM414.1 275.94l1.09 1.12 1.56 -0.02 -0.02 1.56 1.12 1.09 -1.12 1.09 0.02 1.56 -1.56 -0.02 -1.09 1.12 -1.09 -1.12 -1.56 0.02 0.02 -1.56 -1.12 -1.09 1.12 -1.09 -0.02 -1.56 1.56 0.02zM421.2 275.94l1.09 1.12 1.56 -0.02 -0.02 1.56 1.12 1.09 -1.12 1.09 0.02 1.56 -1.56 -0.02 -1.09 1.12 -1.09 -1.12 -1.56 0.02 0.02 -1.56 -1.12 -1.09 1.12 -1.09 -0.02 -1.56 1.56 0.02zM425.9 275.94l1.09 1.12 1.56 -0.02 -0.02 1.56 1.12 1.09 -1.12 1.09 0.02 1.56 -1.56 -0.02 -1.09 1.12 -1.09 -1.12 -1.56 0.02 0.02 -1.56 -1.12 -1.09 1.12 -1.09 -0.02 -1.56 1.56 0.02zM430.6 275.94l1.09 1.12 1.56 -0.02 -0.02 1.56 1.12 1.09 -1.12 1.09 0.02 1.56 -1.56 -0.02 -1.09 1.12 -1.09 -1.12 -1.56 0.02 0.02 -1.56 -1.12 -1.09 1.12 -1.09 -0.02 -1.56 1.56 0.02zM438.8 275.94l1.09 1.12 1.56 -0.02 -0.02 1.56 1.12 1.09 -1.12 1.09 0.02 1.56 -1.56 -0.02 -1.09 1.12 -1.09 -1.12 -1.56 0.02 0.02 -1.56 -1.12 -1.09 1.12 -1.09 -0.02 -1.56 1.56 0.02zM444.1 275.94l1.09 1.12 1.56 -0.02 -0.02 1.56 1.12 1.09 -1.12 1.09 0.02 1.56 -1.56 -0.02 -1.09 1.12 -1.09 -1.12 -1.56 0.02 0.02 -1.56 -1.12 -1.09 1.12 -1.09 -0.02 -1.56 1.56 0.02zM448.8 275.94l1.09 1.12 1.56 -0.02 -0.02 1.56 1.12 1.09 -1.12 1.09 0.02 1.56 -1.56 -0.02 -1.09 1.12 -1.09 -1.12 -1.56 0.02 0.02 -1.56 -1.12 -1.09 1.12 -1.09 -0.02 -1.56 1.56 0.02zM462.1 275.94l1.09 1.12 1.56 -0.02 -0.02 1.56 1.12 1.09 -1.12 1.09 0.02 1.56 -1.56 -0.02 -1.09 1.12 -1.09 -1.12 -1.56 0.02 0.02 -1.56 -1.12 -1.09 1.12 -1.09 -0.02 -1.56 1.56 0.02zM466.8 275.94l1.09 1.12 1.56 -0.02 -0.02 1.56 1.12 1.09 -1.12 1.09 0.02 1.56 -1.56 -0.02 -1.09 1.12 -1.09 -1.12 -1.56 0.02 0.02 -1.56 -1.12 -1.09 1.12 -1.09 -0.02 -1.56 1.56 0.02zM470.3 275.94l1.09 1.12 1.56 -0.02 -0.02 1.56 1.12 1.09 -1.12 1.09 0.02 1.56 -1.56 -0.02 -1.09 1.12 -1.09 -1.12 -1.56 0.02 0.02 -1.56 -1.12 -1.09 1.12 -1.09 -0.02 -1.56 1.56 0.02zM474.4 275.94l1.09 1.12 1.56 -0.02 -0.02 1.56 1.12 1.09 -1.12 1.09 0.02 1.56 -1.56 -0.02 -1.09 1.12 -1.09 -1.12 -1.56 0.02 0.02 -1.56 -1.12 -1.09 1.12 -1.09 -0.02 -1.56 1.56 0.02zM478.5 275.94l1.09 1.12 1.56 -0.02 -0.02 1.56 1.12 1.09 -1.12 1.09 0.02 1.56 -1.56 -0.02 -1.09 1.12 -1.09 -1.12 -1.56 0.02 0.02 -1.56 -1.12 -1.09 1.12 -1.09 -0.02 -1.56 1.56 0.02zM483.8 275.94l1.09 1.12 1.56 -0.02 -0.02 1.56 1.12 1.09 -1.12 1.09 0.02 1.56 -1.56 -0.02 -1.09 1.12 -1.09 -1.12 -1.56 0.02 0.02 -1.56 -1.12 -1.09 1.12 -1.09 -0.02 -1.56 1.56 0.02zM493.2 275.94l1.09 1.12 1.56 -0.02 -0.02 1.56 1.12 1.09 -1.12 1.09 0.02 1.56 -1.56 -0.02 -1.09 1.12 -1.09 -1.12 -1.56 0.02 0.02 -1.56 -1.12 -1.09 1.12 -1.09 -0.02 -1.56 1.56 0.02zM502.1 275.94l1.09 1.12 1.56 -0.02 -0.02 1.56 1.12 1.09 -1.12 1.09 0.02 1.56 -1.56 -0.02 -1.09 1.12 -1.09 -1.12 -1.56 0.02 0.02 -1.56 -1.12 -1.09 1.12 -1.09 -0.02 -1.56 1.56 0.02zM506.2 275.94l1.09 1.12 1.56 -0.02 -0.02 1.56 1.12 1.09 -1.12 1.09 0.02 1.56 -1.56 -0.02 -1.09 1.12 -1.09 -1.12 -1.56 0.02 0.02 -1.56 -1.12 -1.09 1.12 -1.09 -0.02 -1.56 1.56 0.02zM509.7 275.94l1.09 1.12 1.56 -0.02 -0.02 1.56 1.12 1.09 -1.12 1.09 0.02 1.56 -1.56 -0.02 -1.09 1.12 -1.09 -1.12 -1.56 0.02 0.02 -1.56 -1.12 -1.09 1.12 -1.09 -0.02 -1.56 1.56 0.02zM517.4 275.94l1.09 1.12 1.56 -0.02 -0.02 1.56 1.12 1.09 -1.12 1.09 0.02 1.56 -1.56 -0.02 -1.09 1.12 -1.09 -1.12 -1.56 0.02 0.02 -1.56 -1.12 -1.09 1.12 -1.09 -0.02 -1.56 1.56 0.02zM529.7 275.94l1.09 1.12 1.56 -0.02 -0.02 1.56 1.12 1.09 -1.12 1.09 0.02 1.56 -1.56 -0.02 -1.09 1.12 -1.09 -1.12 -1.56 0.02 0.02 -1.56 -1.12 -1.09 1.12 -1.09 -0.02 -1.56 1.56 0.02zM534.4 275.94l1.09 1.12 1.56 -0.02 -0.02 1.56 1.12 1.09 -1.12 1.09 0.02 1.56 -1.56 -0.02 -1.09 1.12 -1.09 -1.12 -1.56 0.02 0.02 -1.56 -1.12 -1.09 1.12 -1.09 -0.02 -1.56 1.56 0.02zM539.1 275.94l1.09 1.12 1.56 -0.02 -0.02 1.56 1.12 1.09 -1.12 1.09 0.02 1.56 -1.56 -0.02 -1.09 1.12 -1.09 -1.12 -1.56 0.02 0.02 -1.56 -1.12 -1.09 1.12 -1.09 -0.02 -1.56 1.56 0.02zM542.6 275.94l1.09 1.12 1.56 -0.02 -0.02 1.56 1.12 1.09 -1.12 1.09 0.02 1.56 -1.56 -0.02 -1.09 1.12 -1.09 -1.12 -1.56 0.02 0.02 -1.56 -1.12 -1.09 1.12 -1.09 -0.02 -1.56 1.56 0.02zM550.3 275.94l1.09 1.12 1.56 -0.02 -0.02 1.56 1.12 1.09 -1.12 1.09 0.02 1.56 -1.56 -0.02 -1.09 1.12 -1.09 -1.12 -1.56 0.02 0.02 -1.56 -1.12 -1.09 1.12 -1.09 -0.02 -1.56 1.56 0.02zM554.7 275.94l1.09 1.12 1.56 -0.02 -0.02 1.56 1.12 1.09 -1.12 1.09 0.02 1.56 -1.56 -0.02 -1.09 1.12 -1.09 -1.12 -1.56 0.02 0.02 -1.56 -1.12 -1.09 1.12 -1.09 -0.02 -1.56 1.56 0.02zM559.1 275.94l1.09 1.12 1.56 -0.02 -0.02 1.56 1.12 1.09 -1.12 1.09 0.02 1.56 -1.56 -0.02 -1.09 1.12 -1.09 -1.12 -1.56 0.02 0.02 -1.56 -1.12 -1.09 1.12 -1.09 -0.02 -1.56 1.56 0.02zM568.8 275.94l1.09 1.12 1.56 -0.02 -0.02 1.56 1.12 1.09 -1.12 1.09 0.02 1.56 -1.56 -0.02 -1.09 1.12 -1.09 -1.12 -1.56 0.02 0.02 -1.56 -1.12 -1.09 1.12 -1.09 -0.02 -1.56 1.56 0.02zM574.1 275.94l1.09 1.12 1.56 -0.02 -0.02 1.56 1.12 1.09 -1.12 1.09 0.02 1.56 -1.56 -0.02 -1.09 1.12 -1.09 -1.12 -1.56 0.02 0.02 -1.56 -1.12 -1.09 1.12 -1.09 -0.02 -1.56 1.56 0.02zM578 275.94l1.09 1.12 1.56 -0.02 -0.02 1.56 1.12 1.09 -1.12 1.09 0.02 1.56 -1.56 -0.02 -1.09 1.12 -1.09 -1.12 -1.56 0.02 0.02 -1.56 -1.12 -1.09 1.12 -1.09 -0.02 -1.56 1.56 0.02zM583 275.94l1.09 1.12 1.56 -0.02 -0.02 1.56 1.12 1.09 -1.12 1.09 0.02 1.56 -1.56 -0.02 -1.09 1.12 -1.09 -1.12 -1.56 0.02 0.02 -1.56 -1.12 -1.09 1.12 -1.09 -0.02 -1.56 1.56 0.02zM593.5 275.94l1.09 1.12 1.56 -0.02 -0.02 1.56 1.12 1.09 -1.12 1.09 0.02 1.56 -1.56 -0.02 -1.09 1.12 -1.09 -1.12 -1.56 0.02 0.02 -1.56 -1.12 -1.09 1.12 -1.09 -0.02 -1.56 1.56 0.02zM605.9 275.94l1.09 1.12 1.56 -0.02 -0.02 1.56 1.12 1.09 -1.12 1.09 0.02 1.56 -1.56 -0.02 -1.09 1.12 -1.09 -1.12 -1.56 0.02 0.02 -1.56 -1.12 -1.09 1.12 -1.09 -0.02 -1.56 1.56 0.02zM614.7 275.94l1.09 1.12 1.56 -0.02 -0.02 1.56 1.12 1.09 -1.12 1.09 0.02 1.56 -1.56 -0.02 -1.09 1.12 -1.09 -1.12 -1.56 0.02 0.02 -1.56 -1.12 -1.09 1.12 -1.09 -0.02 -1.56 1.56 0.02zM624.4 275.94l1.09 1.12 1.56 -0.02 -0.02 1.56 1.12 1.09 -1.12 1.09 0.02 1.56 -1.56 -0.02 -1.09 1.12 -1.09 -1.12 -1.56 0.02 0.02 -1.56 -1.12 -1.09 1.12 -1.09 -0.02 -1.56 1.56 0.02zM634.5 275.94l1.09 1.12 1.56 -0.02 -0.02 1.56 1.12 1.09 -1.12 1.09 0.02 1.56 -1.56 -0.02 -1.09 1.12 -1.09 -1.12 -1.56 0.02 0.02 -1.56 -1.12 -1.09 1.12 -1.09 -0.02 -1.56 1.56 0.02zM645.6 275.94l1.09 1.12 1.56 -0.02 -0.02 1.56 1.12 1.09 -1.12 1.09 0.02 1.56 -1.56 -0.02 -1.09 1.12 -1.09 -1.12 -1.56 0.02 0.02 -1.56 -1.12 -1.09 1.12 -1.09 -0.02 -1.56 1.56 0.02zM651.8 275.94l1.09 1.12 1.56 -0.02 -0.02 1.56 1.12 1.09 -1.12 1.09 0.02 1.56 -1.56 -0.02 -1.09 1.12 -1.09 -1.12 -1.56 0.02 0.02 -1.56 -1.12 -1.09 1.12 -1.09 -0.02 -1.56 1.56 0.02zM662.7 275.94l1.09 1.12 1.56 -0.02 -0.02 1.56 1.12 1.09 -1.12 1.09 0.02 1.56 -1.56 -0.02 -1.09 1.12 -1.09 -1.12 -1.56 0.02 0.02 -1.56 -1.12 -1.09 1.12 -1.09 -0.02 -1.56 1.56 0.02zM669.4 275.94l1.09 1.12 1.56 -0.02 -0.02 1.56 1.12 1.09 -1.12 1.09 0.02 1.56 -1.56 -0.02 -1.09 1.12 -1.09 -1.12 -1.56 0.02 0.02 -1.56 -1.12 -1.09 1.12 -1.09 -0.02 -1.56 1.56 0.02zM673 275.94l1.09 1.12 1.56 -0.02 -0.02 1.56 1.12 1.09 -1.12 1.09 0.02 1.56 -1.56 -0.02 -1.09 1.12 -1.09 -1.12 -1.56 0.02 0.02 -1.56 -1.12 -1.09 1.12 -1.09 -0.02 -1.56 1.56 0.02zM696.4 275.94l1.09 1.12 1.56 -0.02 -0.02 1.56 1.12 1.09 -1.12 1.09 0.02 1.56 -1.56 -0.02 -1.09 1.12 -1.09 -1.12 -1.56 0.02 0.02 -1.56 -1.12 -1.09 1.12 -1.09 -0.02 -1.56 1.56 0.02zM707.3 275.94l1.09 1.12 1.56 -0.02 -0.02 1.56 1.12 1.09 -1.12 1.09 0.02 1.56 -1.56 -0.02 -1.09 1.12 -1.09 -1.12 -1.56 0.02 0.02 -1.56 -1.12 -1.09 1.12 -1.09 -0.02 -1.56 1.56 0.02zM733.8 275.94l1.09 1.12 1.56 -0.02 -0.02 1.56 1.12 1.09 -1.12 1.09 0.02 1.56 -1.56 -0.02 -1.09 1.12 -1.09 -1.12 -1.56 0.02 0.02 -1.56 -1.12 -1.09 1.12 -1.09 -0.02 -1.56 1.56 0.02zM240.6 292.96l1.09 1.12 1.56 -0.02 -0.02 1.56 1.12 1.09 -1.12 1.09 0.02 1.56 -1.56 -0.02 -1.09 1.12 -1.09 -1.12 -1.56 0.02 0.02 -1.56 -1.12 -1.09 1.12 -1.09 -0.02 -1.56 1.56 0.02zM256 292.96l1.09 1.12 1.56 -0.02 -0.02 1.56 1.12 1.09 -1.12 1.09 0.02 1.56 -1.56 -0.02 -1.09 1.12 -1.09 -1.12 -1.56 0.02 0.02 -1.56 -1.12 -1.09 1.12 -1.09 -0.02 -1.56 1.56 0.02zM277.4 292.96l1.09 1.12 1.56 -0.02 -0.02 1.56 1.12 1.09 -1.12 1.09 0.02 1.56 -1.56 -0.02 -1.09 1.12 -1.09 -1.12 -1.56 0.02 0.02 -1.56 -1.12 -1.09 1.12 -1.09 -0.02 -1.56 1.56 0.02zM296.2 292.96l1.09 1.12 1.56 -0.02 -0.02 1.56 1.12 1.09 -1.12 1.09 0.02 1.56 -1.56 -0.02 -1.09 1.12 -1.09 -1.12 -1.56 0.02 0.02 -1.56 -1.12 -1.09 1.12 -1.09 -0.02 -1.56 1.56 0.02zM300.3 292.96l1.09 1.12 1.56 -0.02 -0.02 1.56 1.12 1.09 -1.12 1.09 0.02 1.56 -1.56 -0.02 -1.09 1.12 -1.09 -1.12 -1.56 0.02 0.02 -1.56 -1.12 -1.09 1.12 -1.09 -0.02 -1.56 1.56 0.02zM313.2 292.96l1.09 1.12 1.56 -0.02 -0.02 1.56 1.12 1.09 -1.12 1.09 0.02 1.56 -1.56 -0.02 -1.09 1.12 -1.09 -1.12 -1.56 0.02 0.02 -1.56 -1.12 -1.09 1.12 -1.09 -0.02 -1.56 1.56 0.02zM317.9 292.96l1.09 1.12 1.56 -0.02 -0.02 1.56 1.12 1.09 -1.12 1.09 0.02 1.56 -1.56 -0.02 -1.09 1.12 -1.09 -1.12 -1.56 0.02 0.02 -1.56 -1.12 -1.09 1.12 -1.09 -0.02 -1.56 1.56 0.02zM322.1 292.96l1.09 1.12 1.56 -0.02 -0.02 1.56 1.12 1.09 -1.12 1.09 0.02 1.56 -1.56 -0.02 -1.09 1.12 -1.09 -1.12 -1.56 0.02 0.02 -1.56 -1.12 -1.09 1.12 -1.09 -0.02 -1.56 1.56 0.02zM325.6 292.96l1.09 1.12 1.56 -0.02 -0.02 1.56 1.12 1.09 -1.12 1.09 0.02 1.56 -1.56 -0.02 -1.09 1.12 -1.09 -1.12 -1.56 0.02 0.02 -1.56 -1.12 -1.09 1.12 -1.09 -0.02 -1.56 1.56 0.02zM332.1 292.96l1.09 1.12 1.56 -0.02 -0.02 1.56 1.12 1.09 -1.12 1.09 0.02 1.56 -1.56 -0.02 -1.09 1.12 -1.09 -1.12 -1.56 0.02 0.02 -1.56 -1.12 -1.09 1.12 -1.09 -0.02 -1.56 1.56 0.02zM337.4 292.96l1.09 1.12 1.56 -0.02 -0.02 1.56 1.12 1.09 -1.12 1.09 0.02 1.56 -1.56 -0.02 -1.09 1.12 -1.09 -1.12 -1.56 0.02 0.02 -1.56 -1.12 -1.09 1.12 -1.09 -0.02 -1.56 1.56 0.02zM340.9 292.96l1.09 1.12 1.56 -0.02 -0.02 1.56 1.12 1.09 -1.12 1.09 0.02 1.56 -1.56 -0.02 -1.09 1.12 -1.09 -1.12 -1.56 0.02 0.02 -1.56 -1.12 -1.09 1.12 -1.09 -0.02 -1.56 1.56 0.02zM358.2 292.96l1.09 1.12 1.56 -0.02 -0.02 1.56 1.12 1.09 -1.12 1.09 0.02 1.56 -1.56 -0.02 -1.09 1.12 -1.09 -1.12 -1.56 0.02 0.02 -1.56 -1.12 -1.09 1.12 -1.09 -0.02 -1.56 1.56 0.02zM362.9 292.96l1.09 1.12 1.56 -0.02 -0.02 1.56 1.12 1.09 -1.12 1.09 0.02 1.56 -1.56 -0.02 -1.09 1.12 -1.09 -1.12 -1.56 0.02 0.02 -1.56 -1.12 -1.09 1.12 -1.09 -0.02 -1.56 1.56 0.02zM367.6 292.96l1.09 1.12 1.56 -0.02 -0.02 1.56 1.12 1.09 -1.12 1.09 0.02 1.56 -1.56 -0.02 -1.09 1.12 -1.09 -1.12 -1.56 0.02 0.02 -1.56 -1.12 -1.09 1.12 -1.09 -0.02 -1.56 1.56 0.02zM374.1 292.96l1.09 1.12 1.56 -0.02 -0.02 1.56 1.12 1.09 -1.12 1.09 0.02 1.56 -1.56 -0.02 -1.09 1.12 -1.09 -1.12 -1.56 0.02 0.02 -1.56 -1.12 -1.09 1.12 -1.09 -0.02 -1.56 1.56 0.02zM392.4 292.96l1.09 1.12 1.56 -0.02 -0.02 1.56 1.12 1.09 -1.12 1.09 0.02 1.56 -1.56 -0.02 -1.09 1.12 -1.09 -1.12 -1.56 0.02 0.02 -1.56 -1.12 -1.09 1.12 -1.09 -0.02 -1.56 1.56 0.02zM400.6 292.96l1.09 1.12 1.56 -0.02 -0.02 1.56 1.12 1.09 -1.12 1.09 0.02 1.56 -1.56 -0.02 -1.09 1.12 -1.09 -1.12 -1.56 0.02 0.02 -1.56 -1.12 -1.09 1.12 -1.09 -0.02 -1.56 1.56 0.02zM405.3 292.96l1.09 1.12 1.56 -0.02 -0.02 1.56 1.12 1.09 -1.12 1.09 0.02 1.56 -1.56 -0.02 -1.09 1.12 -1.09 -1.12 -1.56 0.02 0.02 -1.56 -1.12 -1.09 1.12 -1.09 -0.02 -1.56 1.56 0.02zM409.4 292.96l1.09 1.12 1.56 -0.02 -0.02 1.56 1.12 1.09 -1.12 1.09 0.02 1.56 -1.56 -0.02 -1.09 1.12 -1.09 -1.12 -1.56 0.02 0.02 -1.56 -1.12 -1.09 1.12 -1.09 -0.02 -1.56 1.56 0.02zM421.8 292.96l1.09 1.12 1.56 -0.02 -0.02 1.56 1.12 1.09 -1.12 1.09 0.02 1.56 -1.56 -0.02 -1.09 1.12 -1.09 -1.12 -1.56 0.02 0.02 -1.56 -1.12 -1.09 1.12 -1.09 -0.02 -1.56 1.56 0.02zM426.5 292.96l1.09 1.12 1.56 -0.02 -0.02 1.56 1.12 1.09 -1.12 1.09 0.02 1.56 -1.56 -0.02 -1.09 1.12 -1.09 -1.12 -1.56 0.02 0.02 -1.56 -1.12 -1.09 1.12 -1.09 -0.02 -1.56 1.56 0.02zM439.4 292.96l1.09 1.12 1.56 -0.02 -0.02 1.56 1.12 1.09 -1.12 1.09 0.02 1.56 -1.56 -0.02 -1.09 1.12 -1.09 -1.12 -1.56 0.02 0.02 -1.56 -1.12 -1.09 1.12 -1.09 -0.02 -1.56 1.56 0.02zM447.4 292.96l1.09 1.12 1.56 -0.02 -0.02 1.56 1.12 1.09 -1.12 1.09 0.02 1.56 -1.56 -0.02 -1.09 1.12 -1.09 -1.12 -1.56 0.02 0.02 -1.56 -1.12 -1.09 1.12 -1.09 -0.02 -1.56 1.56 0.02zM452.1 292.96l1.09 1.12 1.56 -0.02 -0.02 1.56 1.12 1.09 -1.12 1.09 0.02 1.56 -1.56 -0.02 -1.09 1.12 -1.09 -1.12 -1.56 0.02 0.02 -1.56 -1.12 -1.09 1.12 -1.09 -0.02 -1.56 1.56 0.02zM456.2 292.96l1.09 1.12 1.56 -0.02 -0.02 1.56 1.12 1.09 -1.12 1.09 0.02 1.56 -1.56 -0.02 -1.09 1.12 -1.09 -1.12 -1.56 0.02 0.02 -1.56 -1.12 -1.09 1.12 -1.09 -0.02 -1.56 1.56 0.02zM460.3 292.96l1.09 1.12 1.56 -0.02 -0.02 1.56 1.12 1.09 -1.12 1.09 0.02 1.56 -1.56 -0.02 -1.09 1.12 -1.09 -1.12 -1.56 0.02 0.02 -1.56 -1.12 -1.09 1.12 -1.09 -0.02 -1.56 1.56 0.02zM467.9 292.96l1.09 1.12 1.56 -0.02 -0.02 1.56 1.12 1.09 -1.12 1.09 0.02 1.56 -1.56 -0.02 -1.09 1.12 -1.09 -1.12 -1.56 0.02 0.02 -1.56 -1.12 -1.09 1.12 -1.09 -0.02 -1.56 1.56 0.02zM470.3 292.96l1.09 1.12 1.56 -0.02 -0.02 1.56 1.12 1.09 -1.12 1.09 0.02 1.56 -1.56 -0.02 -1.09 1.12 -1.09 -1.12 -1.56 0.02 0.02 -1.56 -1.12 -1.09 1.12 -1.09 -0.02 -1.56 1.56 0.02zM482.6 292.96l1.09 1.12 1.56 -0.02 -0.02 1.56 1.12 1.09 -1.12 1.09 0.02 1.56 -1.56 -0.02 -1.09 1.12 -1.09 -1.12 -1.56 0.02 0.02 -1.56 -1.12 -1.09 1.12 -1.09 -0.02 -1.56 1.56 0.02zM495 292.96l1.09 1.12 1.56 -0.02 -0.02 1.56 1.12 1.09 -1.12 1.09 0.02 1.56 -1.56 -0.02 -1.09 1.12 -1.09 -1.12 -1.56 0.02 0.02 -1.56 -1.12 -1.09 1.12 -1.09 -0.02 -1.56 1.56 0.02zM503.8 292.96l1.09 1.12 1.56 -0.02 -0.02 1.56 1.12 1.09 -1.12 1.09 0.02 1.56 -1.56 -0.02 -1.09 1.12 -1.09 -1.12 -1.56 0.02 0.02 -1.56 -1.12 -1.09 1.12 -1.09 -0.02 -1.56 1.56 0.02zM507.4 292.96l1.09 1.12 1.56 -0.02 -0.02 1.56 1.12 1.09 -1.12 1.09 0.02 1.56 -1.56 -0.02 -1.09 1.12 -1.09 -1.12 -1.56 0.02 0.02 -1.56 -1.12 -1.09 1.12 -1.09 -0.02 -1.56 1.56 0.02zM513.8 292.96l1.09 1.12 1.56 -0.02 -0.02 1.56 1.12 1.09 -1.12 1.09 0.02 1.56 -1.56 -0.02 -1.09 1.12 -1.09 -1.12 -1.56 0.02 0.02 -1.56 -1.12 -1.09 1.12 -1.09 -0.02 -1.56 1.56 0.02zM522.1 292.96l1.09 1.12 1.56 -0.02 -0.02 1.56 1.12 1.09 -1.12 1.09 0.02 1.56 -1.56 -0.02 -1.09 1.12 -1.09 -1.12 -1.56 0.02 0.02 -1.56 -1.12 -1.09 1.12 -1.09 -0.02 -1.56 1.56 0.02zM529.7 292.96l1.09 1.12 1.56 -0.02 -0.02 1.56 1.12 1.09 -1.12 1.09 0.02 1.56 -1.56 -0.02 -1.09 1.12 -1.09 -1.12 -1.56 0.02 0.02 -1.56 -1.12 -1.09 1.12 -1.09 -0.02 -1.56 1.56 0.02zM542.6 292.96l1.09 1.12 1.56 -0.02 -0.02 1.56 1.12 1.09 -1.12 1.09 0.02 1.56 -1.56 -0.02 -1.09 1.12 -1.09 -1.12 -1.56 0.02 0.02 -1.56 -1.12 -1.09 1.12 -1.09 -0.02 -1.56 1.56 0.02zM562.6 292.96l1.09 1.12 1.56 -0.02 -0.02 1.56 1.12 1.09 -1.12 1.09 0.02 1.56 -1.56 -0.02 -1.09 1.12 -1.09 -1.12 -1.56 0.02 0.02 -1.56 -1.12 -1.09 1.12 -1.09 -0.02 -1.56 1.56 0.02zM566.2 292.96l1.09 1.12 1.56 -0.02 -0.02 1.56 1.12 1.09 -1.12 1.09 0.02 1.56 -1.56 -0.02 -1.09 1.12 -1.09 -1.12 -1.56 0.02 0.02 -1.56 -1.12 -1.09 1.12 -1.09 -0.02 -1.56 1.56 0.02zM578.5 292.96l1.09 1.12 1.56 -0.02 -0.02 1.56 1.12 1.09 -1.12 1.09 0.02 1.56 -1.56 -0.02 -1.09 1.12 -1.09 -1.12 -1.56 0.02 0.02 -1.56 -1.12 -1.09 1.12 -1.09 -0.02 -1.56 1.56 0.02zM583 292.96l1.09 1.12 1.56 -0.02 -0.02 1.56 1.12 1.09 -1.12 1.09 0.02 1.56 -1.56 -0.02 -1.09 1.12 -1.09 -1.12 -1.56 0.02 0.02 -1.56 -1.12 -1.09 1.12 -1.09 -0.02 -1.56 1.56 0.02zM586.5 292.96l1.09 1.12 1.56 -0.02 -0.02 1.56 1.12 1.09 -1.12 1.09 0.02 1.56 -1.56 -0.02 -1.09 1.12 -1.09 -1.12 -1.56 0.02 0.02 -1.56 -1.12 -1.09 1.12 -1.09 -0.02 -1.56 1.56 0.02zM590 292.96l1.09 1.12 1.56 -0.02 -0.02 1.56 1.12 1.09 -1.12 1.09 0.02 1.56 -1.56 -0.02 -1.09 1.12 -1.09 -1.12 -1.56 0.02 0.02 -1.56 -1.12 -1.09 1.12 -1.09 -0.02 -1.56 1.56 0.02zM605 292.96l1.09 1.12 1.56 -0.02 -0.02 1.56 1.12 1.09 -1.12 1.09 0.02 1.56 -1.56 -0.02 -1.09 1.12 -1.09 -1.12 -1.56 0.02 0.02 -1.56 -1.12 -1.09 1.12 -1.09 -0.02 -1.56 1.56 0.02zM607.5 292.96l1.09 1.12 1.56 -0.02 -0.02 1.56 1.12 1.09 -1.12 1.09 0.02 1.56 -1.56 -0.02 -1.09 1.12 -1.09 -1.12 -1.56 0.02 0.02 -1.56 -1.12 -1.09 1.12 -1.09 -0.02 -1.56 1.56 0.02zM610.3 292.96l1.09 1.12 1.56 -0.02 -0.02 1.56 1.12 1.09 -1.12 1.09 0.02 1.56 -1.56 -0.02 -1.09 1.12 -1.09 -1.12 -1.56 0.02 0.02 -1.56 -1.12 -1.09 1.12 -1.09 -0.02 -1.56 1.56 0.02zM626.2 292.96l1.09 1.12 1.56 -0.02 -0.02 1.56 1.12 1.09 -1.12 1.09 0.02 1.56 -1.56 -0.02 -1.09 1.12 -1.09 -1.12 -1.56 0.02 0.02 -1.56 -1.12 -1.09 1.12 -1.09 -0.02 -1.56 1.56 0.02zM662.7 292.96l1.09 1.12 1.56 -0.02 -0.02 1.56 1.12 1.09 -1.12 1.09 0.02 1.56 -1.56 -0.02 -1.09 1.12 -1.09 -1.12 -1.56 0.02 0.02 -1.56 -1.12 -1.09 1.12 -1.09 -0.02 -1.56 1.56 0.02zM668.5 292.96l1.09 1.12 1.56 -0.02 -0.02 1.56 1.12 1.09 -1.12 1.09 0.02 1.56 -1.56 -0.02 -1.09 1.12 -1.09 -1.12 -1.56 0.02 0.02 -1.56 -1.12 -1.09 1.12 -1.09 -0.02 -1.56 1.56 0.02zM672 292.96l1.09 1.12 1.56 -0.02 -0.02 1.56 1.12 1.09 -1.12 1.09 0.02 1.56 -1.56 -0.02 -1.09 1.12 -1.09 -1.12 -1.56 0.02 0.02 -1.56 -1.12 -1.09 1.12 -1.09 -0.02 -1.56 1.56 0.02zM674 292.96l1.09 1.12 1.56 -0.02 -0.02 1.56 1.12 1.09 -1.12 1.09 0.02 1.56 -1.56 -0.02 -1.09 1.12 -1.09 -1.12 -1.56 0.02 0.02 -1.56 -1.12 -1.09 1.12 -1.09 -0.02 -1.56 1.56 0.02zM676.5 292.96l1.09 1.12 1.56 -0.02 -0.02 1.56 1.12 1.09 -1.12 1.09 0.02 1.56 -1.56 -0.02 -1.09 1.12 -1.09 -1.12 -1.56 0.02 0.02 -1.56 -1.12 -1.09 1.12 -1.09 -0.02 -1.56 1.56 0.02zM680 292.96l1.09 1.12 1.56 -0.02 -0.02 1.56 1.12 1.09 -1.12 1.09 0.02 1.56 -1.56 -0.02 -1.09 1.12 -1.09 -1.12 -1.56 0.02 0.02 -1.56 -1.12 -1.09 1.12 -1.09 -0.02 -1.56 1.56 0.02zM686.2 292.96l1.09 1.12 1.56 -0.02 -0.02 1.56 1.12 1.09 -1.12 1.09 0.02 1.56 -1.56 -0.02 -1.09 1.12 -1.09 -1.12 -1.56 0.02 0.02 -1.56 -1.12 -1.09 1.12 -1.09 -0.02 -1.56 1.56 0.02zM173.5 309.98l1.09 1.12 1.56 -0.02 -0.02 1.56 1.12 1.09 -1.12 1.09 0.02 1.56 -1.56 -0.02 -1.09 1.12 -1.09 -1.12 -1.56 0.02 0.02 -1.56 -1.12 -1.09 1.12 -1.09 -0.02 -1.56 1.56 0.02zM263.3 309.98l1.09 1.12 1.56 -0.02 -0.02 1.56 1.12 1.09 -1.12 1.09 0.02 1.56 -1.56 -0.02 -1.09 1.12 -1.09 -1.12 -1.56 0.02 0.02 -1.56 -1.12 -1.09 1.12 -1.09 -0.02 -1.56 1.56 0.02zM286.8 309.98l1.09 1.12 1.56 -0.02 -0.02 1.56 1.12 1.09 -1.12 1.09 0.02 1.56 -1.56 -0.02 -1.09 1.12 -1.09 -1.12 -1.56 0.02 0.02 -1.56 -1.12 -1.09 1.12 -1.09 -0.02 -1.56 1.56 0.02zM288.2 309.98l1.09 1.12 1.56 -0.02 -0.02 1.56 1.12 1.09 -1.12 1.09 0.02 1.56 -1.56 -0.02 -1.09 1.12 -1.09 -1.12 -1.56 0.02 0.02 -1.56 -1.12 -1.09 1.12 -1.09 -0.02 -1.56 1.56 0.02zM301.2 309.98l1.09 1.12 1.56 -0.02 -0.02 1.56 1.12 1.09 -1.12 1.09 0.02 1.56 -1.56 -0.02 -1.09 1.12 -1.09 -1.12 -1.56 0.02 0.02 -1.56 -1.12 -1.09 1.12 -1.09 -0.02 -1.56 1.56 0.02zM308 309.98l1.09 1.12 1.56 -0.02 -0.02 1.56 1.12 1.09 -1.12 1.09 0.02 1.56 -1.56 -0.02 -1.09 1.12 -1.09 -1.12 -1.56 0.02 0.02 -1.56 -1.12 -1.09 1.12 -1.09 -0.02 -1.56 1.56 0.02zM318.2 309.98l1.09 1.12 1.56 -0.02 -0.02 1.56 1.12 1.09 -1.12 1.09 0.02 1.56 -1.56 -0.02 -1.09 1.12 -1.09 -1.12 -1.56 0.02 0.02 -1.56 -1.12 -1.09 1.12 -1.09 -0.02 -1.56 1.56 0.02zM330.6 309.98l1.09 1.12 1.56 -0.02 -0.02 1.56 1.12 1.09 -1.12 1.09 0.02 1.56 -1.56 -0.02 -1.09 1.12 -1.09 -1.12 -1.56 0.02 0.02 -1.56 -1.12 -1.09 1.12 -1.09 -0.02 -1.56 1.56 0.02zM342.6 309.98l1.09 1.12 1.56 -0.02 -0.02 1.56 1.12 1.09 -1.12 1.09 0.02 1.56 -1.56 -0.02 -1.09 1.12 -1.09 -1.12 -1.56 0.02 0.02 -1.56 -1.12 -1.09 1.12 -1.09 -0.02 -1.56 1.56 0.02zM346.2 309.98l1.09 1.12 1.56 -0.02 -0.02 1.56 1.12 1.09 -1.12 1.09 0.02 1.56 -1.56 -0.02 -1.09 1.12 -1.09 -1.12 -1.56 0.02 0.02 -1.56 -1.12 -1.09 1.12 -1.09 -0.02 -1.56 1.56 0.02zM350.3 309.98l1.09 1.12 1.56 -0.02 -0.02 1.56 1.12 1.09 -1.12 1.09 0.02 1.56 -1.56 -0.02 -1.09 1.12 -1.09 -1.12 -1.56 0.02 0.02 -1.56 -1.12 -1.09 1.12 -1.09 -0.02 -1.56 1.56 0.02zM358.5 309.98l1.09 1.12 1.56 -0.02 -0.02 1.56 1.12 1.09 -1.12 1.09 0.02 1.56 -1.56 -0.02 -1.09 1.12 -1.09 -1.12 -1.56 0.02 0.02 -1.56 -1.12 -1.09 1.12 -1.09 -0.02 -1.56 1.56 0.02zM363.2 309.98l1.09 1.12 1.56 -0.02 -0.02 1.56 1.12 1.09 -1.12 1.09 0.02 1.56 -1.56 -0.02 -1.09 1.12 -1.09 -1.12 -1.56 0.02 0.02 -1.56 -1.12 -1.09 1.12 -1.09 -0.02 -1.56 1.56 0.02zM374.4 309.98l1.09 1.12 1.56 -0.02 -0.02 1.56 1.12 1.09 -1.12 1.09 0.02 1.56 -1.56 -0.02 -1.09 1.12 -1.09 -1.12 -1.56 0.02 0.02 -1.56 -1.12 -1.09 1.12 -1.09 -0.02 -1.56 1.56 0.02zM380.9 309.98l1.09 1.12 1.56 -0.02 -0.02 1.56 1.12 1.09 -1.12 1.09 0.02 1.56 -1.56 -0.02 -1.09 1.12 -1.09 -1.12 -1.56 0.02 0.02 -1.56 -1.12 -1.09 1.12 -1.09 -0.02 -1.56 1.56 0.02zM386.2 309.98l1.09 1.12 1.56 -0.02 -0.02 1.56 1.12 1.09 -1.12 1.09 0.02 1.56 -1.56 -0.02 -1.09 1.12 -1.09 -1.12 -1.56 0.02 0.02 -1.56 -1.12 -1.09 1.12 -1.09 -0.02 -1.56 1.56 0.02zM399.5 309.98l1.09 1.12 1.56 -0.02 -0.02 1.56 1.12 1.09 -1.12 1.09 0.02 1.56 -1.56 -0.02 -1.09 1.12 -1.09 -1.12 -1.56 0.02 0.02 -1.56 -1.12 -1.09 1.12 -1.09 -0.02 -1.56 1.56 0.02zM401.1 309.98l1.09 1.12 1.56 -0.02 -0.02 1.56 1.12 1.09 -1.12 1.09 0.02 1.56 -1.56 -0.02 -1.09 1.12 -1.09 -1.12 -1.56 0.02 0.02 -1.56 -1.12 -1.09 1.12 -1.09 -0.02 -1.56 1.56 0.02zM426.8 309.98l1.09 1.12 1.56 -0.02 -0.02 1.56 1.12 1.09 -1.12 1.09 0.02 1.56 -1.56 -0.02 -1.09 1.12 -1.09 -1.12 -1.56 0.02 0.02 -1.56 -1.12 -1.09 1.12 -1.09 -0.02 -1.56 1.56 0.02zM438.2 309.98l1.09 1.12 1.56 -0.02 -0.02 1.56 1.12 1.09 -1.12 1.09 0.02 1.56 -1.56 -0.02 -1.09 1.12 -1.09 -1.12 -1.56 0.02 0.02 -1.56 -1.12 -1.09 1.12 -1.09 -0.02 -1.56 1.56 0.02zM441.2 309.98l1.09 1.12 1.56 -0.02 -0.02 1.56 1.12 1.09 -1.12 1.09 0.02 1.56 -1.56 -0.02 -1.09 1.12 -1.09 -1.12 -1.56 0.02 0.02 -1.56 -1.12 -1.09 1.12 -1.09 -0.02 -1.56 1.56 0.02zM447.6 309.98l1.09 1.12 1.56 -0.02 -0.02 1.56 1.12 1.09 -1.12 1.09 0.02 1.56 -1.56 -0.02 -1.09 1.12 -1.09 -1.12 -1.56 0.02 0.02 -1.56 -1.12 -1.09 1.12 -1.09 -0.02 -1.56 1.56 0.02zM451.2 309.98l1.09 1.12 1.56 -0.02 -0.02 1.56 1.12 1.09 -1.12 1.09 0.02 1.56 -1.56 -0.02 -1.09 1.12 -1.09 -1.12 -1.56 0.02 0.02 -1.56 -1.12 -1.09 1.12 -1.09 -0.02 -1.56 1.56 0.02zM457.6 309.98l1.09 1.12 1.56 -0.02 -0.02 1.56 1.12 1.09 -1.12 1.09 0.02 1.56 -1.56 -0.02 -1.09 1.12 -1.09 -1.12 -1.56 0.02 0.02 -1.56 -1.12 -1.09 1.12 -1.09 -0.02 -1.56 1.56 0.02zM461.2 309.98l1.09 1.12 1.56 -0.02 -0.02 1.56 1.12 1.09 -1.12 1.09 0.02 1.56 -1.56 -0.02 -1.09 1.12 -1.09 -1.12 -1.56 0.02 0.02 -1.56 -1.12 -1.09 1.12 -1.09 -0.02 -1.56 1.56 0.02zM464.7 309.98l1.09 1.12 1.56 -0.02 -0.02 1.56 1.12 1.09 -1.12 1.09 0.02 1.56 -1.56 -0.02 -1.09 1.12 -1.09 -1.12 -1.56 0.02 0.02 -1.56 -1.12 -1.09 1.12 -1.09 -0.02 -1.56 1.56 0.02zM472.9 309.98l1.09 1.12 1.56 -0.02 -0.02 1.56 1.12 1.09 -1.12 1.09 0.02 1.56 -1.56 -0.02 -1.09 1.12 -1.09 -1.12 -1.56 0.02 0.02 -1.56 -1.12 -1.09 1.12 -1.09 -0.02 -1.56 1.56 0.02zM476.5 309.98l1.09 1.12 1.56 -0.02 -0.02 1.56 1.12 1.09 -1.12 1.09 0.02 1.56 -1.56 -0.02 -1.09 1.12 -1.09 -1.12 -1.56 0.02 0.02 -1.56 -1.12 -1.09 1.12 -1.09 -0.02 -1.56 1.56 0.02zM495.1 309.98l1.09 1.12 1.56 -0.02 -0.02 1.56 1.12 1.09 -1.12 1.09 0.02 1.56 -1.56 -0.02 -1.09 1.12 -1.09 -1.12 -1.56 0.02 0.02 -1.56 -1.12 -1.09 1.12 -1.09 -0.02 -1.56 1.56 0.02zM507.1 309.98l1.09 1.12 1.56 -0.02 -0.02 1.56 1.12 1.09 -1.12 1.09 0.02 1.56 -1.56 -0.02 -1.09 1.12 -1.09 -1.12 -1.56 0.02 0.02 -1.56 -1.12 -1.09 1.12 -1.09 -0.02 -1.56 1.56 0.02zM514.7 309.98l1.09 1.12 1.56 -0.02 -0.02 1.56 1.12 1.09 -1.12 1.09 0.02 1.56 -1.56 -0.02 -1.09 1.12 -1.09 -1.12 -1.56 0.02 0.02 -1.56 -1.12 -1.09 1.12 -1.09 -0.02 -1.56 1.56 0.02zM518.2 309.98l1.09 1.12 1.56 -0.02 -0.02 1.56 1.12 1.09 -1.12 1.09 0.02 1.56 -1.56 -0.02 -1.09 1.12 -1.09 -1.12 -1.56 0.02 0.02 -1.56 -1.12 -1.09 1.12 -1.09 -0.02 -1.56 1.56 0.02zM527.6 309.98l1.09 1.12 1.56 -0.02 -0.02 1.56 1.12 1.09 -1.12 1.09 0.02 1.56 -1.56 -0.02 -1.09 1.12 -1.09 -1.12 -1.56 0.02 0.02 -1.56 -1.12 -1.09 1.12 -1.09 -0.02 -1.56 1.56 0.02zM535.8 309.98l1.09 1.12 1.56 -0.02 -0.02 1.56 1.12 1.09 -1.12 1.09 0.02 1.56 -1.56 -0.02 -1.09 1.12 -1.09 -1.12 -1.56 0.02 0.02 -1.56 -1.12 -1.09 1.12 -1.09 -0.02 -1.56 1.56 0.02zM548.5 309.98l1.09 1.12 1.56 -0.02 -0.02 1.56 1.12 1.09 -1.12 1.09 0.02 1.56 -1.56 -0.02 -1.09 1.12 -1.09 -1.12 -1.56 0.02 0.02 -1.56 -1.12 -1.09 1.12 -1.09 -0.02 -1.56 1.56 0.02zM558.2 309.98l1.09 1.12 1.56 -0.02 -0.02 1.56 1.12 1.09 -1.12 1.09 0.02 1.56 -1.56 -0.02 -1.09 1.12 -1.09 -1.12 -1.56 0.02 0.02 -1.56 -1.12 -1.09 1.12 -1.09 -0.02 -1.56 1.56 0.02zM561.8 309.98l1.09 1.12 1.56 -0.02 -0.02 1.56 1.12 1.09 -1.12 1.09 0.02 1.56 -1.56 -0.02 -1.09 1.12 -1.09 -1.12 -1.56 0.02 0.02 -1.56 -1.12 -1.09 1.12 -1.09 -0.02 -1.56 1.56 0.02zM564.4 309.98l1.09 1.12 1.56 -0.02 -0.02 1.56 1.12 1.09 -1.12 1.09 0.02 1.56 -1.56 -0.02 -1.09 1.12 -1.09 -1.12 -1.56 0.02 0.02 -1.56 -1.12 -1.09 1.12 -1.09 -0.02 -1.56 1.56 0.02zM576.2 309.98l1.09 1.12 1.56 -0.02 -0.02 1.56 1.12 1.09 -1.12 1.09 0.02 1.56 -1.56 -0.02 -1.09 1.12 -1.09 -1.12 -1.56 0.02 0.02 -1.56 -1.12 -1.09 1.12 -1.09 -0.02 -1.56 1.56 0.02zM600.6 309.98l1.09 1.12 1.56 -0.02 -0.02 1.56 1.12 1.09 -1.12 1.09 0.02 1.56 -1.56 -0.02 -1.09 1.12 -1.09 -1.12 -1.56 0.02 0.02 -1.56 -1.12 -1.09 1.12 -1.09 -0.02 -1.56 1.56 0.02zM612.6 309.98l1.09 1.12 1.56 -0.02 -0.02 1.56 1.12 1.09 -1.12 1.09 0.02 1.56 -1.56 -0.02 -1.09 1.12 -1.09 -1.12 -1.56 0.02 0.02 -1.56 -1.12 -1.09 1.12 -1.09 -0.02 -1.56 1.56 0.02zM620.4 309.98l1.09 1.12 1.56 -0.02 -0.02 1.56 1.12 1.09 -1.12 1.09 0.02 1.56 -1.56 -0.02 -1.09 1.12 -1.09 -1.12 -1.56 0.02 0.02 -1.56 -1.12 -1.09 1.12 -1.09 -0.02 -1.56 1.56 0.02zM628 309.98l1.09 1.12 1.56 -0.02 -0.02 1.56 1.12 1.09 -1.12 1.09 0.02 1.56 -1.56 -0.02 -1.09 1.12 -1.09 -1.12 -1.56 0.02 0.02 -1.56 -1.12 -1.09 1.12 -1.09 -0.02 -1.56 1.56 0.02zM647.9 309.98l1.09 1.12 1.56 -0.02 -0.02 1.56 1.12 1.09 -1.12 1.09 0.02 1.56 -1.56 -0.02 -1.09 1.12 -1.09 -1.12 -1.56 0.02 0.02 -1.56 -1.12 -1.09 1.12 -1.09 -0.02 -1.56 1.56 0.02zM678.8 309.98l1.09 1.12 1.56 -0.02 -0.02 1.56 1.12 1.09 -1.12 1.09 0.02 1.56 -1.56 -0.02 -1.09 1.12 -1.09 -1.12 -1.56 0.02 0.02 -1.56 -1.12 -1.09 1.12 -1.09 -0.02 -1.56 1.56 0.02zM227 327l1.09 1.12 1.56 -0.02 -0.02 1.56 1.12 1.09 -1.12 1.09 0.02 1.56 -1.56 -0.02 -1.09 1.12 -1.09 -1.12 -1.56 0.02 0.02 -1.56 -1.12 -1.09 1.12 -1.09 -0.02 -1.56 1.56 0.02zM248.8 327l1.09 1.12 1.56 -0.02 -0.02 1.56 1.12 1.09 -1.12 1.09 0.02 1.56 -1.56 -0.02 -1.09 1.12 -1.09 -1.12 -1.56 0.02 0.02 -1.56 -1.12 -1.09 1.12 -1.09 -0.02 -1.56 1.56 0.02zM261.8 327l1.09 1.12 1.56 -0.02 -0.02 1.56 1.12 1.09 -1.12 1.09 0.02 1.56 -1.56 -0.02 -1.09 1.12 -1.09 -1.12 -1.56 0.02 0.02 -1.56 -1.12 -1.09 1.12 -1.09 -0.02 -1.56 1.56 0.02zM264.7 327l1.09 1.12 1.56 -0.02 -0.02 1.56 1.12 1.09 -1.12 1.09 0.02 1.56 -1.56 -0.02 -1.09 1.12 -1.09 -1.12 -1.56 0.02 0.02 -1.56 -1.12 -1.09 1.12 -1.09 -0.02 -1.56 1.56 0.02zM275.9 327l1.09 1.12 1.56 -0.02 -0.02 1.56 1.12 1.09 -1.12 1.09 0.02 1.56 -1.56 -0.02 -1.09 1.12 -1.09 -1.12 -1.56 0.02 0.02 -1.56 -1.12 -1.09 1.12 -1.09 -0.02 -1.56 1.56 0.02zM278.8 327l1.09 1.12 1.56 -0.02 -0.02 1.56 1.12 1.09 -1.12 1.09 0.02 1.56 -1.56 -0.02 -1.09 1.12 -1.09 -1.12 -1.56 0.02 0.02 -1.56 -1.12 -1.09 1.12 -1.09 -0.02 -1.56 1.56 0.02zM288.2 327l1.09 1.12 1.56 -0.02 -0.02 1.56 1.12 1.09 -1.12 1.09 0.02 1.56 -1.56 -0.02 -1.09 1.12 -1.09 -1.12 -1.56 0.02 0.02 -1.56 -1.12 -1.09 1.12 -1.09 -0.02 -1.56 1.56 0.02zM345.6 327l1.09 1.12 1.56 -0.02 -0.02 1.56 1.12 1.09 -1.12 1.09 0.02 1.56 -1.56 -0.02 -1.09 1.12 -1.09 -1.12 -1.56 0.02 0.02 -1.56 -1.12 -1.09 1.12 -1.09 -0.02 -1.56 1.56 0.02zM348.5 327l1.09 1.12 1.56 -0.02 -0.02 1.56 1.12 1.09 -1.12 1.09 0.02 1.56 -1.56 -0.02 -1.09 1.12 -1.09 -1.12 -1.56 0.02 0.02 -1.56 -1.12 -1.09 1.12 -1.09 -0.02 -1.56 1.56 0.02zM359.9 327l1.09 1.12 1.56 -0.02 -0.02 1.56 1.12 1.09 -1.12 1.09 0.02 1.56 -1.56 -0.02 -1.09 1.12 -1.09 -1.12 -1.56 0.02 0.02 -1.56 -1.12 -1.09 1.12 -1.09 -0.02 -1.56 1.56 0.02zM371.2 327l1.09 1.12 1.56 -0.02 -0.02 1.56 1.12 1.09 -1.12 1.09 0.02 1.56 -1.56 -0.02 -1.09 1.12 -1.09 -1.12 -1.56 0.02 0.02 -1.56 -1.12 -1.09 1.12 -1.09 -0.02 -1.56 1.56 0.02zM391.1 327l1.09 1.12 1.56 -0.02 -0.02 1.56 1.12 1.09 -1.12 1.09 0.02 1.56 -1.56 -0.02 -1.09 1.12 -1.09 -1.12 -1.56 0.02 0.02 -1.56 -1.12 -1.09 1.12 -1.09 -0.02 -1.56 1.56 0.02zM400.3 327l1.09 1.12 1.56 -0.02 -0.02 1.56 1.12 1.09 -1.12 1.09 0.02 1.56 -1.56 -0.02 -1.09 1.12 -1.09 -1.12 -1.56 0.02 0.02 -1.56 -1.12 -1.09 1.12 -1.09 -0.02 -1.56 1.56 0.02zM402.6 327l1.09 1.12 1.56 -0.02 -0.02 1.56 1.12 1.09 -1.12 1.09 0.02 1.56 -1.56 -0.02 -1.09 1.12 -1.09 -1.12 -1.56 0.02 0.02 -1.56 -1.12 -1.09 1.12 -1.09 -0.02 -1.56 1.56 0.02zM408.5 327l1.09 1.12 1.56 -0.02 -0.02 1.56 1.12 1.09 -1.12 1.09 0.02 1.56 -1.56 -0.02 -1.09 1.12 -1.09 -1.12 -1.56 0.02 0.02 -1.56 -1.12 -1.09 1.12 -1.09 -0.02 -1.56 1.56 0.02zM411 327l1.09 1.12 1.56 -0.02 -0.02 1.56 1.12 1.09 -1.12 1.09 0.02 1.56 -1.56 -0.02 -1.09 1.12 -1.09 -1.12 -1.56 0.02 0.02 -1.56 -1.12 -1.09 1.12 -1.09 -0.02 -1.56 1.56 0.02zM430.3 327l1.09 1.12 1.56 -0.02 -0.02 1.56 1.12 1.09 -1.12 1.09 0.02 1.56 -1.56 -0.02 -1.09 1.12 -1.09 -1.12 -1.56 0.02 0.02 -1.56 -1.12 -1.09 1.12 -1.09 -0.02 -1.56 1.56 0.02zM440.4 327l1.09 1.12 1.56 -0.02 -0.02 1.56 1.12 1.09 -1.12 1.09 0.02 1.56 -1.56 -0.02 -1.09 1.12 -1.09 -1.12 -1.56 0.02 0.02 -1.56 -1.12 -1.09 1.12 -1.09 -0.02 -1.56 1.56 0.02zM448.8 327l1.09 1.12 1.56 -0.02 -0.02 1.56 1.12 1.09 -1.12 1.09 0.02 1.56 -1.56 -0.02 -1.09 1.12 -1.09 -1.12 -1.56 0.02 0.02 -1.56 -1.12 -1.09 1.12 -1.09 -0.02 -1.56 1.56 0.02zM484.1 327l1.09 1.12 1.56 -0.02 -0.02 1.56 1.12 1.09 -1.12 1.09 0.02 1.56 -1.56 -0.02 -1.09 1.12 -1.09 -1.12 -1.56 0.02 0.02 -1.56 -1.12 -1.09 1.12 -1.09 -0.02 -1.56 1.56 0.02zM511.2 327l1.09 1.12 1.56 -0.02 -0.02 1.56 1.12 1.09 -1.12 1.09 0.02 1.56 -1.56 -0.02 -1.09 1.12 -1.09 -1.12 -1.56 0.02 0.02 -1.56 -1.12 -1.09 1.12 -1.09 -0.02 -1.56 1.56 0.02zM560.5 327l1.09 1.12 1.56 -0.02 -0.02 1.56 1.12 1.09 -1.12 1.09 0.02 1.56 -1.56 -0.02 -1.09 1.12 -1.09 -1.12 -1.56 0.02 0.02 -1.56 -1.12 -1.09 1.12 -1.09 -0.02 -1.56 1.56 0.02zM616.8 327l1.09 1.12 1.56 -0.02 -0.02 1.56 1.12 1.09 -1.12 1.09 0.02 1.56 -1.56 -0.02 -1.09 1.12 -1.09 -1.12 -1.56 0.02 0.02 -1.56 -1.12 -1.09 1.12 -1.09 -0.02 -1.56 1.56 0.02zM639.4 327l1.09 1.12 1.56 -0.02 -0.02 1.56 1.12 1.09 -1.12 1.09 0.02 1.56 -1.56 -0.02 -1.09 1.12 -1.09 -1.12 -1.56 0.02 0.02 -1.56 -1.12 -1.09 1.12 -1.09 -0.02 -1.56 1.56 0.02zM708.6 327l1.09 1.12 1.56 -0.02 -0.02 1.56 1.12 1.09 -1.12 1.09 0.02 1.56 -1.56 -0.02 -1.09 1.12 -1.09 -1.12 -1.56 0.02 0.02 -1.56 -1.12 -1.09 1.12 -1.09 -0.02 -1.56 1.56 0.02zM310.6 344.02l1.09 1.12 1.56 -0.02 -0.02 1.56 1.12 1.09 -1.12 1.09 0.02 1.56 -1.56 -0.02 -1.09 1.12 -1.09 -1.12 -1.56 0.02 0.02 -1.56 -1.12 -1.09 1.12 -1.09 -0.02 -1.56 1.56 0.02zM372.9 344.02l1.09 1.12 1.56 -0.02 -0.02 1.56 1.12 1.09 -1.12 1.09 0.02 1.56 -1.56 -0.02 -1.09 1.12 -1.09 -1.12 -1.56 0.02 0.02 -1.56 -1.12 -1.09 1.12 -1.09 -0.02 -1.56 1.56 0.02zM385.9 344.02l1.09 1.12 1.56 -0.02 -0.02 1.56 1.12 1.09 -1.12 1.09 0.02 1.56 -1.56 -0.02 -1.09 1.12 -1.09 -1.12 -1.56 0.02 0.02 -1.56 -1.12 -1.09 1.12 -1.09 -0.02 -1.56 1.56 0.02zM394.8 344.02l1.09 1.12 1.56 -0.02 -0.02 1.56 1.12 1.09 -1.12 1.09 0.02 1.56 -1.56 -0.02 -1.09 1.12 -1.09 -1.12 -1.56 0.02 0.02 -1.56 -1.12 -1.09 1.12 -1.09 -0.02 -1.56 1.56 0.02zM443.1 344.02l1.09 1.12 1.56 -0.02 -0.02 1.56 1.12 1.09 -1.12 1.09 0.02 1.56 -1.56 -0.02 -1.09 1.12 -1.09 -1.12 -1.56 0.02 0.02 -1.56 -1.12 -1.09 1.12 -1.09 -0.02 -1.56 1.56 0.02zM504.2 344.02l1.09 1.12 1.56 -0.02 -0.02 1.56 1.12 1.09 -1.12 1.09 0.02 1.56 -1.56 -0.02 -1.09 1.12 -1.09 -1.12 -1.56 0.02 0.02 -1.56 -1.12 -1.09 1.12 -1.09 -0.02 -1.56 1.56 0.02zM631.1 344.02l1.09 1.12 1.56 -0.02 -0.02 1.56 1.12 1.09 -1.12 1.09 0.02 1.56 -1.56 -0.02 -1.09 1.12 -1.09 -1.12 -1.56 0.02 0.02 -1.56 -1.12 -1.09 1.12 -1.09 -0.02 -1.56 1.56 0.02zM652.9 344.02l1.09 1.12 1.56 -0.02 -0.02 1.56 1.12 1.09 -1.12 1.09 0.02 1.56 -1.56 -0.02 -1.09 1.12 -1.09 -1.12 -1.56 0.02 0.02 -1.56 -1.12 -1.09 1.12 -1.09 -0.02 -1.56 1.56 0.02zM655.3 344.02l1.09 1.12 1.56 -0.02 -0.02 1.56 1.12 1.09 -1.12 1.09 0.02 1.56 -1.56 -0.02 -1.09 1.12 -1.09 -1.12 -1.56 0.02 0.02 -1.56 -1.12 -1.09 1.12 -1.09 -0.02 -1.56 1.56 0.02zM367.1 361.04l1.09 1.12 1.56 -0.02 -0.02 1.56 1.12 1.09 -1.12 1.09 0.02 1.56 -1.56 -0.02 -1.09 1.12 -1.09 -1.12 -1.56 0.02 0.02 -1.56 -1.12 -1.09 1.12 -1.09 -0.02 -1.56 1.56 0.02zM421.2 361.04l1.09 1.12 1.56 -0.02 -0.02 1.56 1.12 1.09 -1.12 1.09 0.02 1.56 -1.56 -0.02 -1.09 1.12 -1.09 -1.12 -1.56 0.02 0.02 -1.56 -1.12 -1.09 1.12 -1.09 -0.02 -1.56 1.56 0.02zM437.2 361.04l1.09 1.12 1.56 -0.02 -0.02 1.56 1.12 1.09 -1.12 1.09 0.02 1.56 -1.56 -0.02 -1.09 1.12 -1.09 -1.12 -1.56 0.02 0.02 -1.56 -1.12 -1.09 1.12 -1.09 -0.02 -1.56 1.56 0.02zM480.3 361.04l1.09 1.12 1.56 -0.02 -0.02 1.56 1.12 1.09 -1.12 1.09 0.02 1.56 -1.56 -0.02 -1.09 1.12 -1.09 -1.12 -1.56 0.02 0.02 -1.56 -1.12 -1.09 1.12 -1.09 -0.02 -1.56 1.56 0.02zM550.1 361.04l1.09 1.12 1.56 -0.02 -0.02 1.56 1.12 1.09 -1.12 1.09 0.02 1.56 -1.56 -0.02 -1.09 1.12 -1.09 -1.12 -1.56 0.02 0.02 -1.56 -1.12 -1.09 1.12 -1.09 -0.02 -1.56 1.56 0.02zM367.8 378.06l1.09 1.12 1.56 -0.02 -0.02 1.56 1.12 1.09 -1.12 1.09 0.02 1.56 -1.56 -0.02 -1.09 1.12 -1.09 -1.12 -1.56 0.02 0.02 -1.56 -1.12 -1.09 1.12 -1.09 -0.02 -1.56 1.56 0.02z"/></g>
<path d="M152 299.8 C160.0 298.4 183.7 294.1 200 291.1 C216.3 288.1 233.3 285.0 250 282.0 C266.7 279.0 283.3 276.0 300 273.0 C316.7 270.0 335.8 266.7 350 264.1 C364.2 261.5 375.0 258.9 385 257.2 C395.0 255.5 402.5 254.3 410 253.8 C417.5 253.3 422.5 253.8 430 254.3 C437.5 254.8 445.8 255.5 455 256.6 C464.2 257.7 474.2 259.3 485 261.0 C495.8 262.7 507.5 265.0 520 267.0 C532.5 269.0 546.7 271.1 560 273.2 C573.3 275.3 585.0 277.1 600 279.4 C615.0 281.7 633.3 284.5 650 287.0 C666.7 289.5 686.1 292.5 700 294.5 C713.9 296.5 727.9 298.1 733.5 298.8" fill="none" stroke="#000" stroke-width="3.6" stroke-linejoin="round"/>
</svg>
</body></html>
